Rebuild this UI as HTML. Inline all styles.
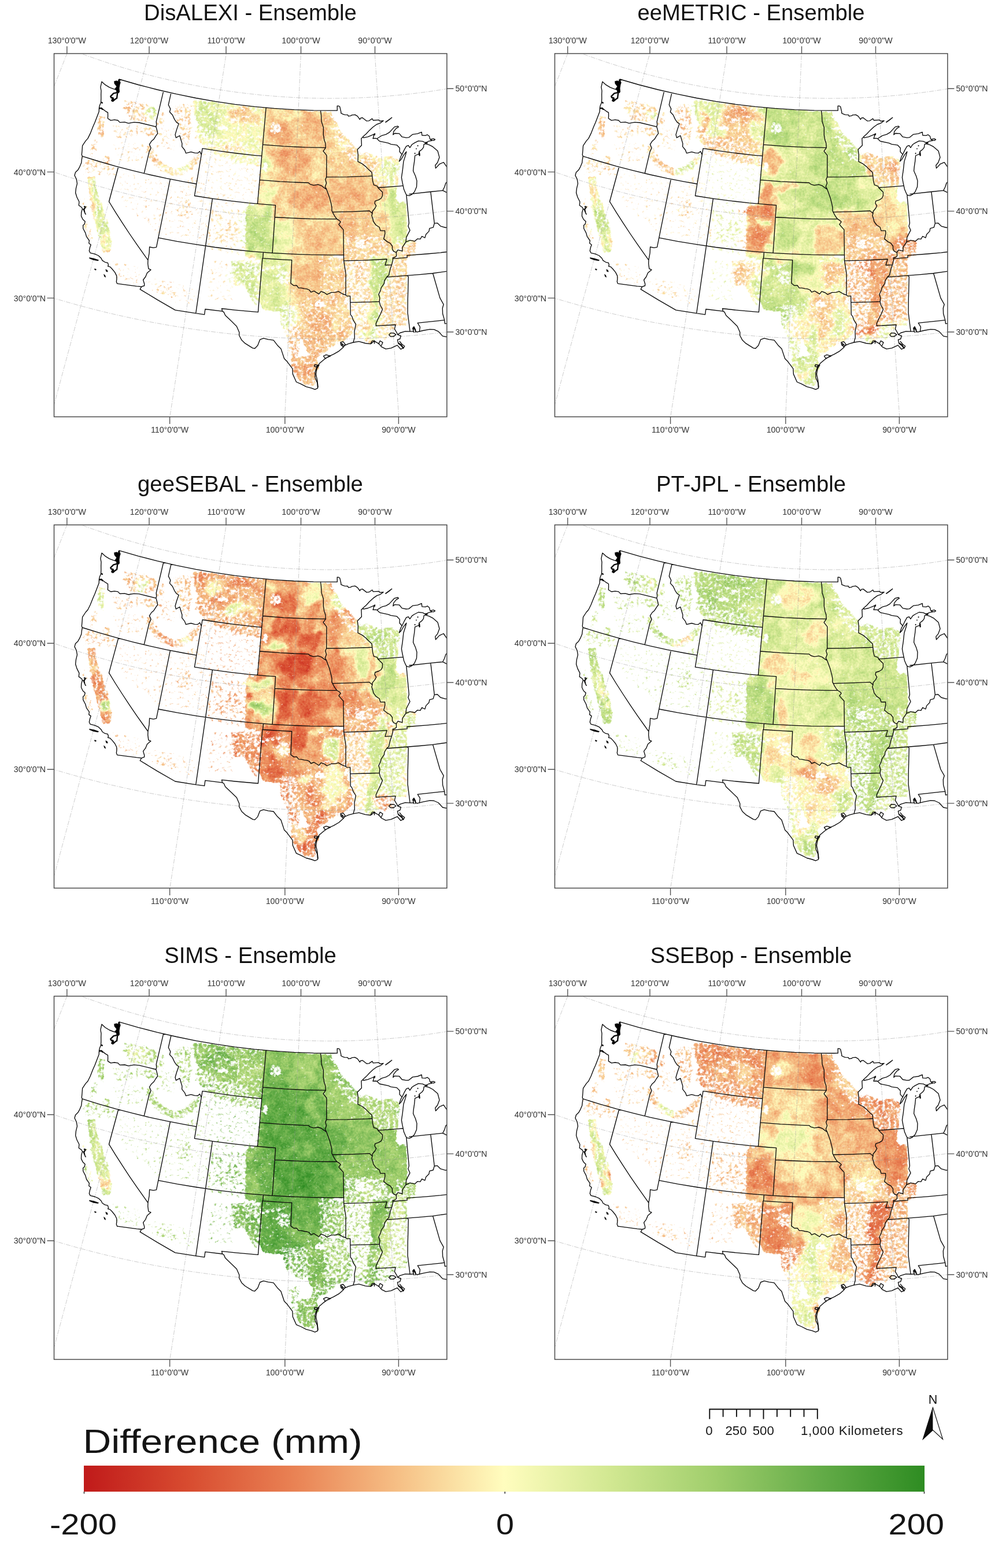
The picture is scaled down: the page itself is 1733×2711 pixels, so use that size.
<!DOCTYPE html>
<html lang="en"><head><meta charset="utf-8"><title>Model minus Ensemble difference maps</title>
<style>
html,body{margin:0;padding:0;background:#fff}
body{width:1733px;height:2711px;overflow:hidden;font-family:"Liberation Sans",sans-serif}
svg{display:block}
.t{font-size:38.25px;fill:#111;text-anchor:middle}
.k{font-size:14.2px;fill:#333}
.g{fill:none;stroke:#9a9a9a;stroke-opacity:.5;stroke-width:1;stroke-dasharray:8 2 1.5 2}
.st{fill:none;stroke:#0a0a0a;stroke-width:1.35;stroke-linejoin:round;stroke-linecap:round}
.tk{stroke:#555;stroke-width:1.4}
.fr{fill:none;stroke:#4a4a4a;stroke-width:1.5}
</style></head>
<body>
<svg width="1733" height="2711" viewBox="0 0 1733 2711">
<defs>
<clipPath id="fc"><rect x="93.5" y="92.6" width="679.4" height="628.0"/></clipPath>
<g id="grat" class="g" clip-path="url(#fc)"><path d="M-192.7,878.4 -185.5,860.2 -178.4,842.0 -171.3,824.0 -164.3,806.1 -157.3,788.3 -150.4,770.6 -143.5,753.0 -136.6,735.5 -129.8,718.1 -123.0,700.8 -116.2,683.5 -109.4,666.4 -102.7,649.3 -96.1,632.3 -89.4,615.3 -82.8,598.4 -76.2,581.6 -69.6,564.8 -63.0,548.1 -56.5,531.4 -49.9,514.8 -43.4,498.2 -36.9,481.7 -30.5,465.2 -24.0,448.7 -17.5,432.3 -11.1,415.9 -4.7,399.5 1.8,383.1 8.2,366.8 14.6,350.4 21.0,334.1 27.4,317.8 33.8,301.5 40.2,285.1 46.7,268.8 53.1,252.5 59.5,236.1 65.9,219.8 72.3,203.4 78.8,187.0 85.2,170.5 91.7,154.1 98.2,137.6 104.7,121.0 111.2,104.4 117.7,87.8 124.3,71.1 130.9,54.4 137.5,37.5 144.1,20.7 150.7,3.7 157.4,-13.3 164.1,-30.4 170.9,-47.6 177.7,-64.9 184.5,-82.4 191.4,-99.9 198.3,-117.5"/><path d="M25.7,950.6 30.8,931.6 35.9,912.8 40.9,894.2 45.9,875.6 50.9,857.1 55.9,838.8 60.8,820.5 65.7,802.4 70.6,784.3 75.5,766.3 80.3,748.5 85.1,730.7 89.9,712.9 94.7,695.3 99.5,677.7 104.2,660.2 108.9,642.7 113.6,625.3 118.3,608.0 123.0,590.7 127.6,573.5 132.3,556.3 136.9,539.1 141.5,522.0 146.2,505.0 150.8,487.9 155.4,470.9 160.0,453.9 164.6,436.9 169.2,420.0 173.7,403.0 178.3,386.1 182.9,369.1 187.5,352.2 192.0,335.3 196.6,318.4 201.2,301.4 205.8,284.5 210.4,267.5 215.0,250.5 219.6,233.5 224.2,216.4 228.8,199.4 233.4,182.2 238.1,165.1 242.7,147.9 247.4,130.6 252.1,113.3 256.8,96.0 261.5,78.5 266.2,61.0 271.0,43.4 275.7,25.8 280.5,8.0 285.4,-9.8 290.2,-27.8 295.1,-45.8 300.0,-64.0 305.0,-82.3"/><path d="M250.6,998.3 253.6,978.9 256.6,959.7 259.6,940.6 262.6,921.5 265.5,902.7 268.4,883.9 271.3,865.2 274.2,846.6 277.1,828.1 279.9,809.7 282.8,791.4 285.6,773.2 288.4,755.0 291.2,737.0 294.0,719.0 296.8,701.1 299.6,683.2 302.3,665.4 305.1,647.6 307.8,629.9 310.6,612.3 313.3,594.7 316.0,577.1 318.8,559.6 321.5,542.2 324.2,524.7 326.9,507.3 329.6,489.9 332.3,472.5 335.0,455.1 337.7,437.8 340.4,420.5 343.1,403.1 345.8,385.8 348.4,368.5 351.1,351.1 353.8,333.8 356.5,316.4 359.2,299.1 361.9,281.7 364.6,264.3 367.3,246.8 370.1,229.3 372.8,211.8 375.5,194.2 378.2,176.6 381.0,159.0 383.7,141.3 386.5,123.5 389.3,105.6 392.0,87.7 394.8,69.7 397.6,51.6 400.5,33.5 403.3,15.2 406.2,-3.2 409.0,-21.6 411.9,-40.2 414.8,-59.0"/><path d="M479.5,1021.0 480.4,1001.5 481.2,982.0 482.1,962.7 482.9,943.4 483.8,924.3 484.6,905.3 485.4,886.5 486.2,867.7 487.1,849.0 487.9,830.4 488.7,811.9 489.5,793.5 490.3,775.1 491.1,756.8 491.9,738.6 492.7,720.5 493.5,702.5 494.3,684.5 495.1,666.5 495.9,648.6 496.7,630.8 497.5,613.0 498.2,595.3 499.0,577.5 499.8,559.9 500.6,542.2 501.4,524.6 502.1,507.0 502.9,489.5 503.7,471.9 504.5,454.4 505.2,436.8 506.0,419.3 506.8,401.8 507.5,384.3 508.3,366.8 509.1,349.2 509.9,331.7 510.6,314.1 511.4,296.5 512.2,278.9 513.0,261.3 513.7,243.6 514.5,225.9 515.3,208.1 516.1,190.3 516.9,172.5 517.7,154.6 518.4,136.6 519.2,118.6 520.0,100.4 520.8,82.2 521.6,64.0 522.5,45.6 523.3,27.1 524.1,8.6 524.9,-10.1 525.7,-28.9 526.6,-47.9"/><path d="M709.5,1018.5 708.2,998.9 706.9,979.5 705.6,960.2 704.3,941.0 703.1,921.9 701.8,903.0 700.6,884.1 699.3,865.3 698.1,846.7 696.9,828.1 695.6,809.6 694.4,791.2 693.2,772.9 692.0,754.6 690.8,736.5 689.6,718.4 688.4,700.3 687.2,682.3 686.0,664.4 684.9,646.6 683.7,628.7 682.5,611.0 681.3,593.2 680.2,575.6 679.0,557.9 677.8,540.3 676.7,522.7 675.5,505.1 674.4,487.6 673.2,470.0 672.0,452.5 670.9,435.0 669.7,417.5 668.6,400.0 667.4,382.5 666.2,365.0 665.1,347.5 663.9,330.0 662.8,312.4 661.6,294.9 660.4,277.3 659.3,259.7 658.1,242.0 656.9,224.3 655.8,206.6 654.6,188.8 653.4,171.0 652.2,153.1 651.0,135.1 649.9,117.1 648.7,99.0 647.5,80.8 646.3,62.6 645.0,44.2 643.8,25.8 642.6,7.3 641.4,-11.4 640.1,-30.2 638.9,-49.1"/><path d="M-198.5,396.1 -185.8,402.7 -173.0,409.2 -160.2,415.6 -147.4,421.9 -134.4,428.0 -121.5,434.1 -108.4,440.0 -95.4,445.9 -82.2,451.6 -69.1,457.2 -55.8,462.7 -42.6,468.0 -29.2,473.3 -15.9,478.4 -2.5,483.5 11.0,488.4 24.5,493.2 38.0,497.8 51.6,502.4 65.2,506.8 78.8,511.2 92.5,515.4 106.2,519.4 120.0,523.4 133.8,527.3 147.6,531.0 161.5,534.6 175.3,538.1 189.3,541.5 203.2,544.7 217.2,547.8 231.2,550.8 245.2,553.7 259.2,556.5 273.3,559.1 287.4,561.6 301.5,564.0 315.6,566.3 329.8,568.5 344.0,570.5 358.2,572.4 372.4,574.2 386.6,575.9 400.8,577.4 415.1,578.8 429.3,580.1 443.6,581.3 457.9,582.3 472.2,583.2 486.5,584.0 500.8,584.7 515.1,585.3 529.4,585.7 543.7,586.0 558.0,586.2 572.3,586.2 586.6,586.2 600.9,586.0 615.3,585.6 629.6,585.2 643.9,584.6 658.2,584.0 672.5,583.1 686.8,582.2 701.0,581.1 715.3,580.0 729.6,578.7 743.8,577.2 758.0,575.7 772.3,574.0 786.5,572.2 800.6,570.3 814.8,568.2 829.0,566.1 843.1,563.8 857.2,561.4 871.3,558.8 885.4,556.2 899.4,553.4 913.4,550.5 927.4,547.5 941.4,544.3 955.3,541.1 969.2,537.7 983.1,534.2 997.0,530.6 1010.8,526.8 1024.6,523.0 1038.3,519.0"/><path d="M-101.9,212.4 -90.8,218.2 -79.6,223.9 -68.4,229.4 -57.2,234.9 -45.9,240.3 -34.5,245.6 -23.1,250.8 -11.7,255.9 -0.2,260.9 11.3,265.8 22.9,270.6 34.5,275.3 46.1,279.9 57.8,284.4 69.5,288.8 81.3,293.1 93.1,297.3 104.9,301.4 116.8,305.4 128.7,309.2 140.6,313.0 152.6,316.7 164.6,320.3 176.6,323.7 188.7,327.1 200.8,330.4 212.9,333.5 225.0,336.6 237.2,339.5 249.4,342.4 261.6,345.1 273.9,347.7 286.1,350.2 298.4,352.7 310.7,355.0 323.0,357.2 335.4,359.3 347.8,361.3 360.1,363.1 372.5,364.9 384.9,366.6 397.4,368.2 409.8,369.6 422.2,371.0 434.7,372.2 447.2,373.3 459.6,374.3 472.1,375.3 484.6,376.1 497.1,376.8 509.6,377.4 522.1,377.8 534.7,378.2 547.2,378.5 559.7,378.6 572.2,378.7 584.7,378.6 597.3,378.4 609.8,378.2 622.3,377.8 634.8,377.3 647.3,376.7 659.8,376.0 672.3,375.2 684.8,374.2 697.3,373.2 709.7,372.1 722.2,370.8 734.6,369.4 747.1,368.0 759.5,366.4 771.9,364.7 784.3,362.9 796.7,361.0 809.0,359.0 821.4,356.9 833.7,354.7 846.0,352.4 858.3,350.0 870.5,347.4 882.8,344.8 895.0,342.0 907.2,339.2 919.3,336.2 931.5,333.2 943.6,330.0 955.7,326.7 967.7,323.4 979.8,319.9"/><path d="M-4.8,27.8 4.7,32.7 14.3,37.6 23.9,42.4 33.5,47.1 43.2,51.7 52.9,56.2 62.6,60.7 72.4,65.0 82.2,69.3 92.1,73.5 102.0,77.6 111.9,81.6 121.9,85.6 131.9,89.4 141.9,93.2 152.0,96.9 162.1,100.4 172.2,103.9 182.4,107.4 192.6,110.7 202.8,113.9 213.0,117.1 223.3,120.1 233.6,123.1 243.9,126.0 254.2,128.8 264.6,131.5 275.0,134.1 285.4,136.6 295.8,139.0 306.3,141.4 316.8,143.6 327.3,145.8 337.8,147.8 348.3,149.8 358.9,151.7 369.4,153.5 380.0,155.2 390.6,156.8 401.2,158.3 411.8,159.8 422.5,161.1 433.1,162.3 443.8,163.5 454.4,164.6 465.1,165.5 475.8,166.4 486.5,167.2 497.2,167.9 507.8,168.5 518.6,169.0 529.3,169.4 540.0,169.7 550.7,169.9 561.4,170.1 572.1,170.1 582.8,170.0 593.5,169.9 604.3,169.7 615.0,169.3 625.7,168.9 636.4,168.4 647.1,167.8 657.8,167.1 668.4,166.3 679.1,165.4 689.8,164.4 700.5,163.4 711.1,162.2 721.8,160.9 732.4,159.6 743.0,158.2 753.6,156.6 764.2,155.0 774.8,153.3 785.3,151.5 795.9,149.6 806.4,147.6 816.9,145.5 827.4,143.4 837.9,141.1 848.3,138.8 858.8,136.3 869.2,133.8 879.6,131.2 889.9,128.4 900.3,125.6 910.6,122.8 920.9,119.8"/></g>
<g id="base" clip-path="url(#fc)"><path class="st" d="M176.0,141.2 173.9,150.7 175.0,157.0 174.7,163.5 174.8,170.1 174.5,177.3 172.3,182.5 171.5,186.2 171.2,193.1 164.1,211.6 160.7,219.3 156.1,230.9 151.9,239.4 148.1,243.6 142.6,251.9 142.0,260.2 141.3,267.6 142.3,270.1 141.4,275.3 140.7,281.6 137.9,288.3 134.8,293.8 130.5,297.9 129.0,303.2 132.2,309.9 133.5,317.3 131.5,325.3 130.6,333.3 133.0,341.0 136.9,348.7 136.3,355.0 141.5,358.8 142.4,361.6 140.7,367.2 140.5,373.6 143.2,379.3 147.2,383.1 145.9,387.7 143.6,389.6 143.7,395.0 147.7,402.6 149.6,409.2 154.4,416.0 153.7,420.5 157.2,423.2 155.6,427.5 154.3,433.6 156.1,437.3 163.9,439.2 170.3,442.0 175.0,446.5 177.0,450.4 181.6,453.3 186.3,454.3 187.5,458.1 186.6,460.4 190.3,461.3 193.9,465.0 198.7,470.9 201.7,476.9 201.9,482.3 201.3,486.9 202.7,490.4M142.5,361.2 144.4,361.8 146.3,360.2 145.6,356.7 148.7,357.7 145.7,362.1 147.1,369.0 148.3,370.5 146.1,366.6 144.3,362.2M176.0,141.2 182.0,146.7 189.4,151.2 196.0,153.7 200.0,154.9M204.5,149.7 208.0,143.1 206.1,137.0M202.7,490.4 236.3,494.8 244.8,495.7 242.2,500.1 272.3,518.4 303.0,536.1 336.7,541.4 353.6,543.8 354.9,534.5 384.6,538.2M384.6,538.2 387.1,539.6 389.7,545.3 399.5,554.6 409.3,564.2 413.8,574.5 413.6,579.7 418.0,588.1 423.9,593.7 437.1,601.8 440.7,602.5 445.7,597.2 449.6,587.2 455.8,584.9 463.9,586.9 473.0,588.1 479.8,596.9 485.9,602.9 491.6,620.0 496.0,624.4 505.8,637.4 506.4,646.9 512.5,660.5 520.0,663.7 529.5,668.6 539.0,671.1 544.7,673.3 549.5,671.1M549.5,671.1 548.7,661.7 545.0,653.2 544.8,643.7 548.1,634.3 552.8,628.1 560.3,621.8 567.8,616.6 577.0,612.4 586.2,607.1 593.5,600.7 590.7,593.4 595.3,597.6 602.6,594.3 611.0,592.0 620.8,590.3 631.9,593.5 641.1,594.6 647.3,589.7 655.7,594.6 659.7,599.6 667.2,603.4 676.4,601.8 687.1,596.9 693.1,603.8 697.6,601.4 694.4,596.3 688.6,592.6 687.4,587.4 691.8,586.0 693.3,580.7 687.7,578.6 692.0,575.5 700.9,572.8 709.1,573.2 714.5,573.1 715.7,566.3 718.0,571.3 721.0,574.2 731.7,571.5 743.3,569.3 750.6,569.6 758.3,573.1 765.6,581.1 772.3,582.4 782.2,573.8 789.0,569.8 796.8,572.9 805.5,582.3 813.7,587.5M206.1,137.0 238.9,146.5 271.9,155.0 305.2,162.7 338.7,169.5 372.3,175.3 406.1,180.3 440.1,184.3 474.1,187.4 508.2,189.6 542.3,190.9 576.4,191.2 583.3,191.1M583.3,191.1 583.2,183.1 586.0,183.3 587.8,184.8 589.8,193.6 589.7,195.7 593.1,197.3 595.9,198.3 601.5,198.6 602.5,200.9 606.8,200.2 608.5,198.9 614.0,198.3 618.3,200.9 622.4,206.6 623.6,204.2 626.8,203.5 634.1,209.2 638.3,208.8 643.7,205.1 645.3,208.0 655.1,207.4 657.4,209.5 663.1,208.7M663.1,208.7 657.6,212.9 651.6,215.0 645.3,219.5 638.9,225.4 633.5,231.3 627.5,236.6 628.7,238.2 636.2,236.6 643.2,233.7 646.7,232.1 646.2,236.3 645.0,239.5 649.3,239.2 651.9,239.7M651.9,239.7 660.5,234.3 667.5,232.4 673.1,229.2 682.3,219.4 687.9,218.1 689.4,219.4 685.3,221.9 680.8,227.5 679.8,232.9 682.5,230.5 690.5,230.9 695.3,236.7 702.7,238.1 707.0,237.7 713.7,232.3 722.3,231.2 729.2,228.4 729.9,234.0 735.7,234.4 739.2,232.9 742.5,235.6 743.8,240.7 747.1,243.0 741.4,244.2 735.9,247.0 731.1,244.4 723.7,243.6 716.8,247.1 712.7,249.7 708.9,255.3 706.3,251.4 702.7,252.8 699.0,259.4 695.3,267.1M651.9,239.7 656.5,244.2 671.6,247.4 676.1,249.3 686.4,250.8 691.3,256.0 691.1,262.3 695.3,267.1M695.3,267.1 693.3,270.4 690.4,279.1 693.8,275.6 698.3,267.9 702.9,262.2 701.3,268.6 697.9,279.4 696.3,294.2 694.4,306.9 695.9,315.1 698.5,327.3 701.5,334.3 703.3,337.3 708.1,338.3 712.6,336.0 716.8,331.8 720.5,323.1 721.0,312.6 718.6,304.5 714.6,295.5 715.3,288.1 716.6,279.6 717.7,269.0 724.8,266.1 725.1,261.9 729.9,258.2 732.4,254.8 733.2,249.4 735.6,248.5 742.2,250.4 748.5,253.7 757.0,261.0 760.0,272.1 756.7,281.0 752.8,285.7 753.5,290.9 760.1,283.7 767.2,280.6 773.1,289.2 777.2,301.1 777.6,309.5 770.9,316.7 768.8,323.3 765.7,329.4 773.3,333.2 778.1,333.5M171.5,186.2 177.7,188.6 182.6,192.3 186.5,194.6 186.6,200.1 186.4,204.8 191.5,208.1 197.9,207.2 203.8,208.0 207.3,211.6 215.8,211.2 222.1,213.1 231.6,211.4 240.5,212.0 269.8,219.2M282.7,157.6 270.2,210.3 270.7,215.7 269.8,219.2M269.8,219.2 271.0,223.1 272.7,230.6 269.4,235.2 265.9,240.8 262.0,244.1 258.4,249.7 261.1,255.7 257.9,262.8 249.2,299.8M142.3,270.1 171.1,279.0 200.1,287.3 229.2,294.9 258.5,302.0 288.0,308.4 317.6,314.1 339.8,318.0M204.7,288.5 188.5,348.5 199.9,367.1 211.8,385.6 223.9,404.0 236.5,422.4 249.4,440.6 255.9,449.7M294.4,309.7 270.5,427.3 265.2,428.4 258.6,427.0 258.1,437.5 255.9,449.7 255.7,456.0 256.9,464.7 260.9,466.4 254.6,471.7 251.7,478.5 247.6,484.0 249.7,490.8 249.6,494.0 244.8,495.7M273.8,411.1 306.3,417.3 338.9,422.7 371.7,427.5 404.5,431.5 437.4,434.8 470.4,437.4 503.5,439.2 536.5,440.4 569.6,440.8 594.4,440.6M339.8,318.0 336.4,338.5 367.4,343.3M367.4,343.3 338.7,541.7M339.8,318.0 350.1,256.6M295.9,160.7 291.3,181.2 294.8,188.4 293.4,193.5 298.3,198.8 301.8,206.4 305.2,211.4 309.1,213.9 305.6,223.9 303.0,232.9 304.4,238.1 310.8,234.5 314.9,248.1 314.6,253.3 319.5,259.5 321.5,264.8 330.3,262.6 336.7,264.4 342.0,264.7 345.5,261.7 348.3,267.4M350.1,256.6 379.3,261.1 408.6,265.0 438.0,268.3 452.7,269.7M460.1,186.3 445.4,352.4M367.4,343.3 398.5,347.4 429.7,350.9 461.0,353.7 476.6,354.8M476.6,354.8 471.1,437.4M454.4,250.1 490.7,252.9 527.0,254.6 563.3,255.3M449.0,311.1 484.1,313.8 519.3,315.5 533.4,316.0 536.4,318.6 542.5,320.4 550.1,319.2 556.2,321.2 560.8,324.8 564.6,327.1M475.3,375.5 505.9,377.2 536.5,378.3 567.2,378.7 582.5,378.6M455.4,436.3 454.6,446.6 488.0,448.8 504.7,449.6 502.9,489.8M453.9,446.6 446.4,539.6 407.0,536.1 383.5,533.5 384.6,538.2M502.9,489.8 507.9,493.7 513.1,493.5 516.3,497.8 520.7,497.9 526.7,499.2 531.0,499.7 535.2,501.5 537.7,505.1 543.0,503.1 551.6,508.4 555.1,503.9 561.1,506.0 565.4,509.1 573.2,505.6 580.2,505.4 585.3,503.9 592.3,508.0 597.9,510.2 600.2,511.8 605.6,511.9M594.4,440.6 594.6,450.9 598.1,473.7 597.9,510.2M605.6,511.9 606.3,544.1 608.8,547.2 610.8,553.4 615.4,560.6 613.0,573.2 613.3,583.6 611.0,592.0M605.8,522.9 639.3,522.1 656.1,521.4M594.4,440.6 593.9,397.1 589.2,392.0 585.9,387.9 589.1,383.7 586.6,381.1 582.5,378.6M594.6,450.9 627.8,450.1 660.9,448.5 669.2,448.0 666.0,458.5 677.4,457.8M564.6,327.1 569.9,341.4 572.6,351.8 573.9,358.0 573.9,364.2 577.0,370.4 579.4,374.5 582.5,378.6M575.1,366.7 610.5,365.8 638.9,364.5 644.0,369.0M564.7,306.1 600.6,305.8 636.6,304.6 643.7,304.2M563.3,255.3 559.1,261.3 564.9,268.7 564.7,306.1 562.7,310.3 564.6,316.5 562.3,322.7 564.6,327.1M554.5,191.1 555.5,199.5 556.0,210.0 559.4,220.6 559.3,233.1 560.7,241.5 562.8,247.8 563.3,255.3M627.5,237.2 624.9,239.2 625.4,251.3 618.2,258.5 619.3,267.8 619.0,279.3M619.0,279.3 626.5,283.2 632.7,288.1 637.5,293.1 643.0,298.0 643.7,304.2 644.5,312.5 646.4,319.7 652.6,321.8 653.7,324.5 661.5,332.3 661.4,338.5 659.3,342.8 654.8,345.6 648.7,347.6 648.1,351.8 650.7,355.8 648.6,360.0 644.1,365.5 644.0,369.0 642.9,372.8 644.8,378.3 645.8,383.0 650.1,389.0 656.0,392.8 658.0,398.9 665.6,398.8 665.9,404.0 663.7,413.1 669.7,417.9 674.9,420.6 678.5,425.5 678.5,430.7 680.8,434.7 685.4,436.4 685.6,442.7 682.4,445.0 679.4,445.6 679.4,450.4 677.4,457.8 674.6,466.3 672.4,475.8 668.7,479.1 664.8,485.6 664.5,489.8 659.4,497.3 658.0,502.6 654.9,509.0 656.9,515.2 656.1,521.4 657.6,527.6 661.5,534.7 658.4,542.2 653.6,551.8 650.3,559.3 650.5,563.4M650.5,563.4 684.1,561.5 682.4,568.9 686.6,575.9 687.7,578.6M653.7,324.5 690.0,321.8 697.2,321.2M702.9,337.3 707.4,385.8 705.9,391.1 709.0,398.1 702.8,410.1 701.9,418.5M685.4,436.4 688.1,432.1 695.8,434.2 696.0,427.3 701.9,418.5 709.0,415.4 717.4,417.1 721.9,412.9 726.9,413.4 729.7,408.5 734.9,411.1 736.7,405.2 741.9,399.9 742.9,394.9 749.2,393.2 751.3,386.2 756.4,385.6 762.0,391.1 770.5,393.5 778.6,392.6 783.0,389.3 788.8,394.7M751.3,386.2 745.0,332.8M707.8,335.6 744.9,331.5 765.7,329.4M680.1,447.2 704.2,445.3 703.9,441.6 738.0,439.0 761.9,436.8 776.5,435.1M668.7,479.1 726.5,474.6 748.6,472.5 784.1,467.6 790.8,466.6M704.4,476.5 706.3,478.4 705.3,518.1 705.1,541.0 709.1,573.2M725.4,573.2 726.5,565.3 722.3,558.4 761.0,554.3 768.7,553.4 769.5,559.6 772.0,559.3M748.6,472.5 760.9,515.1 767.2,526.3 765.3,532.8 765.6,542.2 768.7,553.4M772.0,559.3 805.5,556.9M594.4,599.7 589.8,596.6 588.9,592.0 593.4,590.7 597.1,595.4 594.4,599.7M672.8,578.9 675.6,575.6 681.1,575.9 684.9,578.6 680.6,581.6 675.1,581.5 672.8,578.9M715.9,574.7 713.7,567.5 716.0,564.8 718.8,570.2 718.3,574.5M549.1,631.2 544.4,630.5 543.4,633.2 547.1,634.7 549.1,631.2M571.5,615.6 564.1,613.4 559.5,615.5 562.2,619.7 571.5,615.6M550.1,669.2 548.7,657.5 546.4,646.9 548.0,637.5 551.9,631.2M688.7,593.6 693.6,597.5 697.6,602.4 699.7,598.5 695.3,595.2 691.2,590.3M654.8,594.6 657.3,589.2 662.0,592.1 659.6,597.5M641.0,594.2 643.6,589.3 648.1,589.1 647.4,593.9"/><path d="M197.4,140.6 201.6,139.6 204.2,140.6 204.7,137.5 206.0,137.5 206.3,140.6 207.6,142.7 207.0,148.4 206.3,152.5 206.8,158.8 205.2,160.9 201.6,160.3 201.1,156.2 198.5,154.1 201.6,149.4 199.5,146.8 197.9,144.8ZM193.3,170.7 196.4,169.2 197.4,171.8 195.9,174.9 193.8,175.2ZM154.4,445.3 162.8,446.9 170.7,449.6 169.6,451.0 161.6,449.6 154.8,446.9ZM163.9,464.4 166.6,465.7 165.7,467.3 163.2,466.0ZM182.6,465.7 185.5,466.9 186.4,470.1 183.7,469.6ZM179.4,474.1 181.9,476.0 182.8,479.4 180.5,478.2ZM666.1,211.1 671.9,206.9 677.6,202.7 678.3,203.4 673.0,207.8 667.0,212.0ZM647.0,231.0 648.9,230.5 648.7,233.5 647.3,234.1ZM724.4,262.8 726.0,263.0 726.6,268.9 725.3,270.0 724.2,267.2ZM722.0,251.1 723.3,251.4 723.2,252.8 721.8,252.6ZM719.6,256.5 720.7,256.8 720.4,258.0 719.4,257.8ZM717.1,264.2 718.5,264.7 718.0,266.2 716.8,265.8ZM735.4,245.6 739.2,246.4 739.5,248.0 736.1,248.0Z" fill="#000" stroke="#000" stroke-width="0.4"/><path class="st" style="stroke-width:2.4" d="M201.1,160.3 196.4,161.4 191.2,166.6 192.2,168.7 195.3,169.2 193.3,173.9 195.3,174.9 199.5,171.3 202.1,169.7 203.1,161.4M175.1,177.0 176.9,177.8M172.0,187.4 175.6,186.9 177.2,188.9"/><path class="st" d="M745.3,240.7 749.7,239.8 752.5,241.2 750.3,242.9 746.4,242.4 745.3,240.7"/></g>
<filter id="sp" filterUnits="userSpaceOnUse" x="93" y="92" width="681" height="629" color-interpolation-filters="sRGB"><feGaussianBlur in="SourceGraphic" stdDeviation="1.5" result="d"/><feTurbulence type="fractalNoise" baseFrequency="0.2" numOctaves="4" seed="11" result="n"/><feColorMatrix in="n" type="matrix" values="1.3 0 0 0 -0.15  1.3 0 0 0 -0.15  1.3 0 0 0 -0.15  0 0 0 0 1" result="ng"/><feComposite in="d" in2="ng" operator="arithmetic" k1="0" k2="3.36" k3="3" k4="-3"/><feGaussianBlur stdDeviation="0.7"/></filter>
<filter id="vf0" filterUnits="userSpaceOnUse" x="93" y="92" width="681" height="629" color-interpolation-filters="sRGB"><feGaussianBlur in="SourceGraphic" stdDeviation="3.5" result="b"/><feTurbulence type="fractalNoise" baseFrequency="0.035" numOctaves="3" seed="3" result="t1"/><feDisplacementMap in="b" in2="t1" scale="34" xChannelSelector="R" yChannelSelector="G" result="dm"/><feTurbulence type="fractalNoise" baseFrequency="0.07" numOctaves="3" seed="43" result="t2"/><feColorMatrix in="t2" type="matrix" values="1 0 0 0 0  1 0 0 0 0  1 0 0 0 0  0 0 0 0 1" result="tg"/><feComposite in="dm" in2="tg" operator="arithmetic" k1="0" k2="1" k3="0.17" k4="-0.08" result="v1"/><feTurbulence type="fractalNoise" baseFrequency="0.3" numOctaves="2" seed="83" result="t3"/><feColorMatrix in="t3" type="matrix" values="1 0 0 0 0  1 0 0 0 0  1 0 0 0 0  0 0 0 0 1" result="tf"/><feComposite in="v1" in2="tf" operator="arithmetic" k1="0" k2="1" k3="0.15" k4="-0.072" result="vn"/><feComponentTransfer><feFuncR type="table" tableValues="0.753 0.847 0.914 0.965 1.000 0.824 0.627 0.392 0.180"/><feFuncG type="table" tableValues="0.102 0.298 0.510 0.753 0.992 0.910 0.808 0.675 0.549"/><feFuncB type="table" tableValues="0.102 0.188 0.329 0.525 0.745 0.573 0.424 0.282 0.133"/></feComponentTransfer></filter>
<filter id="vf1" filterUnits="userSpaceOnUse" x="93" y="92" width="681" height="629" color-interpolation-filters="sRGB"><feGaussianBlur in="SourceGraphic" stdDeviation="3.5" result="b"/><feTurbulence type="fractalNoise" baseFrequency="0.035" numOctaves="3" seed="8" result="t1"/><feDisplacementMap in="b" in2="t1" scale="34" xChannelSelector="R" yChannelSelector="G" result="dm"/><feTurbulence type="fractalNoise" baseFrequency="0.07" numOctaves="3" seed="48" result="t2"/><feColorMatrix in="t2" type="matrix" values="1 0 0 0 0  1 0 0 0 0  1 0 0 0 0  0 0 0 0 1" result="tg"/><feComposite in="dm" in2="tg" operator="arithmetic" k1="0" k2="1" k3="0.17" k4="-0.08" result="v1"/><feTurbulence type="fractalNoise" baseFrequency="0.3" numOctaves="2" seed="88" result="t3"/><feColorMatrix in="t3" type="matrix" values="1 0 0 0 0  1 0 0 0 0  1 0 0 0 0  0 0 0 0 1" result="tf"/><feComposite in="v1" in2="tf" operator="arithmetic" k1="0" k2="1" k3="0.15" k4="-0.072" result="vn"/><feComponentTransfer><feFuncR type="table" tableValues="0.753 0.847 0.914 0.965 1.000 0.824 0.627 0.392 0.180"/><feFuncG type="table" tableValues="0.102 0.298 0.510 0.753 0.992 0.910 0.808 0.675 0.549"/><feFuncB type="table" tableValues="0.102 0.188 0.329 0.525 0.745 0.573 0.424 0.282 0.133"/></feComponentTransfer></filter>
<filter id="vf2" filterUnits="userSpaceOnUse" x="93" y="92" width="681" height="629" color-interpolation-filters="sRGB"><feGaussianBlur in="SourceGraphic" stdDeviation="3.5" result="b"/><feTurbulence type="fractalNoise" baseFrequency="0.035" numOctaves="3" seed="21" result="t1"/><feDisplacementMap in="b" in2="t1" scale="34" xChannelSelector="R" yChannelSelector="G" result="dm"/><feTurbulence type="fractalNoise" baseFrequency="0.07" numOctaves="3" seed="61" result="t2"/><feColorMatrix in="t2" type="matrix" values="1 0 0 0 0  1 0 0 0 0  1 0 0 0 0  0 0 0 0 1" result="tg"/><feComposite in="dm" in2="tg" operator="arithmetic" k1="0" k2="1" k3="0.17" k4="-0.08" result="v1"/><feTurbulence type="fractalNoise" baseFrequency="0.3" numOctaves="2" seed="101" result="t3"/><feColorMatrix in="t3" type="matrix" values="1 0 0 0 0  1 0 0 0 0  1 0 0 0 0  0 0 0 0 1" result="tf"/><feComposite in="v1" in2="tf" operator="arithmetic" k1="0" k2="1" k3="0.15" k4="-0.072" result="vn"/><feComponentTransfer><feFuncR type="table" tableValues="0.753 0.847 0.914 0.965 1.000 0.824 0.627 0.392 0.180"/><feFuncG type="table" tableValues="0.102 0.298 0.510 0.753 0.992 0.910 0.808 0.675 0.549"/><feFuncB type="table" tableValues="0.102 0.188 0.329 0.525 0.745 0.573 0.424 0.282 0.133"/></feComponentTransfer></filter>
<filter id="vf3" filterUnits="userSpaceOnUse" x="93" y="92" width="681" height="629" color-interpolation-filters="sRGB"><feGaussianBlur in="SourceGraphic" stdDeviation="3.5" result="b"/><feTurbulence type="fractalNoise" baseFrequency="0.035" numOctaves="3" seed="5" result="t1"/><feDisplacementMap in="b" in2="t1" scale="34" xChannelSelector="R" yChannelSelector="G" result="dm"/><feTurbulence type="fractalNoise" baseFrequency="0.07" numOctaves="3" seed="45" result="t2"/><feColorMatrix in="t2" type="matrix" values="1 0 0 0 0  1 0 0 0 0  1 0 0 0 0  0 0 0 0 1" result="tg"/><feComposite in="dm" in2="tg" operator="arithmetic" k1="0" k2="1" k3="0.17" k4="-0.08" result="v1"/><feTurbulence type="fractalNoise" baseFrequency="0.3" numOctaves="2" seed="85" result="t3"/><feColorMatrix in="t3" type="matrix" values="1 0 0 0 0  1 0 0 0 0  1 0 0 0 0  0 0 0 0 1" result="tf"/><feComposite in="v1" in2="tf" operator="arithmetic" k1="0" k2="1" k3="0.15" k4="-0.072" result="vn"/><feComponentTransfer><feFuncR type="table" tableValues="0.753 0.847 0.914 0.965 1.000 0.824 0.627 0.392 0.180"/><feFuncG type="table" tableValues="0.102 0.298 0.510 0.753 0.992 0.910 0.808 0.675 0.549"/><feFuncB type="table" tableValues="0.102 0.188 0.329 0.525 0.745 0.573 0.424 0.282 0.133"/></feComponentTransfer></filter>
<filter id="vf4" filterUnits="userSpaceOnUse" x="93" y="92" width="681" height="629" color-interpolation-filters="sRGB"><feGaussianBlur in="SourceGraphic" stdDeviation="3.5" result="b"/><feTurbulence type="fractalNoise" baseFrequency="0.035" numOctaves="3" seed="17" result="t1"/><feDisplacementMap in="b" in2="t1" scale="34" xChannelSelector="R" yChannelSelector="G" result="dm"/><feTurbulence type="fractalNoise" baseFrequency="0.07" numOctaves="3" seed="57" result="t2"/><feColorMatrix in="t2" type="matrix" values="1 0 0 0 0  1 0 0 0 0  1 0 0 0 0  0 0 0 0 1" result="tg"/><feComposite in="dm" in2="tg" operator="arithmetic" k1="0" k2="1" k3="0.17" k4="-0.08" result="v1"/><feTurbulence type="fractalNoise" baseFrequency="0.3" numOctaves="2" seed="97" result="t3"/><feColorMatrix in="t3" type="matrix" values="1 0 0 0 0  1 0 0 0 0  1 0 0 0 0  0 0 0 0 1" result="tf"/><feComposite in="v1" in2="tf" operator="arithmetic" k1="0" k2="1" k3="0.15" k4="-0.072" result="vn"/><feComponentTransfer><feFuncR type="table" tableValues="0.753 0.847 0.914 0.965 1.000 0.824 0.627 0.392 0.180"/><feFuncG type="table" tableValues="0.102 0.298 0.510 0.753 0.992 0.910 0.808 0.675 0.549"/><feFuncB type="table" tableValues="0.102 0.188 0.329 0.525 0.745 0.573 0.424 0.282 0.133"/></feComponentTransfer></filter>
<filter id="vf5" filterUnits="userSpaceOnUse" x="93" y="92" width="681" height="629" color-interpolation-filters="sRGB"><feGaussianBlur in="SourceGraphic" stdDeviation="3.5" result="b"/><feTurbulence type="fractalNoise" baseFrequency="0.035" numOctaves="3" seed="29" result="t1"/><feDisplacementMap in="b" in2="t1" scale="34" xChannelSelector="R" yChannelSelector="G" result="dm"/><feTurbulence type="fractalNoise" baseFrequency="0.07" numOctaves="3" seed="69" result="t2"/><feColorMatrix in="t2" type="matrix" values="1 0 0 0 0  1 0 0 0 0  1 0 0 0 0  0 0 0 0 1" result="tg"/><feComposite in="dm" in2="tg" operator="arithmetic" k1="0" k2="1" k3="0.17" k4="-0.08" result="v1"/><feTurbulence type="fractalNoise" baseFrequency="0.3" numOctaves="2" seed="109" result="t3"/><feColorMatrix in="t3" type="matrix" values="1 0 0 0 0  1 0 0 0 0  1 0 0 0 0  0 0 0 0 1" result="tf"/><feComposite in="v1" in2="tf" operator="arithmetic" k1="0" k2="1" k3="0.15" k4="-0.072" result="vn"/><feComponentTransfer><feFuncR type="table" tableValues="0.753 0.847 0.914 0.965 1.000 0.824 0.627 0.392 0.180"/><feFuncG type="table" tableValues="0.102 0.298 0.510 0.753 0.992 0.910 0.808 0.675 0.549"/><feFuncB type="table" tableValues="0.102 0.188 0.329 0.525 0.745 0.573 0.424 0.282 0.133"/></feComponentTransfer></filter>
<g id="mbase"><rect x="93" y="92" width="681" height="629" fill="#000"/><path fill="#464646" d="M202,293 359,324 363,423 269,405 202,342Z"/><path fill="#505050" d="M341,261 449,270 446,353 363,360 337,338Z"/><path fill="#606060" d="M363,360 426,360 424,445 359,432Z"/><ellipse fill="#808080" cx="404" cy="400" rx="13" ry="16"/><ellipse fill="#797979" cx="381" cy="409" rx="11" ry="9"/><ellipse fill="#737373" cx="377" cy="378" rx="11" ry="9"/><path fill="#4d4d4d" d="M247,477 341,495 341,530 269,517Z"/><ellipse fill="#737373" cx="287" cy="503" rx="18" ry="8" transform="rotate(25 287 503)"/><ellipse fill="#868686" cx="233" cy="488" rx="4" ry="6"/><path fill="#545454" d="M193,450 242,459 242,490 202,486Z"/><path fill="#505050" d="M359,450 404,450 404,521 359,521Z"/><path fill="#606060" d="M139,270 202,284 200,306 144,302Z"/><ellipse fill="#6f6f6f" cx="180" cy="288" rx="18" ry="8" transform="rotate(15 180 288)"/><path fill="#808080" d="M213,172 269,181 273,205 251,214 225,208 213,194Z"/><ellipse fill="#929292" cx="263" cy="196" rx="10" ry="13"/><ellipse fill="#8c8c8c" cx="233" cy="194" rx="13" ry="11"/><path fill="#989898" d="M170,199 182,201 181,240 173,241 167,226Z"/><ellipse fill="#808080" cx="162" cy="255" rx="6" ry="17" transform="rotate(15 162 255)"/><ellipse fill="#808080" cx="184" cy="279" rx="9" ry="11"/><path fill="#656565" d="M193,217 269,217 265,239 242,234 202,243Z"/><ellipse fill="#808080" cx="259" cy="228" rx="11" ry="10"/><path fill="#505050" d="M193,243 251,248 247,284 198,279Z"/><path fill="none" stroke="#989898" stroke-width="15.2" stroke-linecap="round" stroke-linejoin="round" d="M258,259 270,279 285,292 304,299 322,292 338,277"/><ellipse fill="#808080" cx="278" cy="210" rx="7" ry="18" transform="rotate(10 278 210)"/><path fill="#7b7b7b" d="M298,181 332,178 334,226 325,255 311,241 304,208Z"/><path fill="#5b5b5b" d="M269,217 301,221 305,261 269,257Z"/><ellipse fill="#737373" cx="319" cy="360" rx="13" ry="18"/><ellipse fill="#656565" cx="332" cy="315" rx="11" ry="11"/><path fill="#bababa" d="M151,305 165,305 167,324 172,340 180,364 190,391 194,418 192,437 178,438 171,414 164,387 157,360 154,340 152,324Z"/><ellipse fill="#868686" cx="153" cy="400" rx="5" ry="22" transform="rotate(-18 153 400)"/><ellipse fill="#808080" cx="147" cy="356" rx="4" ry="13" transform="rotate(-10 147 356)"/><ellipse fill="#808080" cx="157" cy="284" rx="6" ry="13" transform="rotate(-10 157 284)"/><path fill="#bdbdbd" d="M334,172 458,186 455,250 451,270 435,266 422,250 404,241 381,243 368,231 355,226 341,213 334,194Z"/><path fill="#8c8c8c" d="M341,213 368,231 381,243 404,241 422,250 435,266 451,270 449,288 404,279 359,261 337,239Z"/><path fill="#fafafa" d="M455,187 556,193 565,270 566,306 646,306 659,338 646,369 664,405 595,405 595,441 552,445 555,526 505,521 453,447 426,445 426,356 446,353 449,312 455,250Z"/><path fill="#ffffff" d="M458,186 556,193 562,226 564,252 455,250Z"/><path fill="#ffffff" d="M455,250 564,252 566,270 566,306 538,315 449,312 452,279Z"/><path fill="#ffffff" d="M449,312 538,315 562,320 573,342 580,367 476,376 475,356 446,353Z"/><path fill="#ffffff" d="M476,376 580,367 593,396 595,441 473,437Z"/><path fill="#e9e9e9" d="M426,356 475,356 473,437 453,447 424,445 425,396Z"/><path fill="#929292" d="M399,450 453,447 451,521 440,530 422,495 404,495Z"/><ellipse fill="#b6b6b6" cx="435" cy="490" rx="11" ry="18"/><ellipse fill="#b0b0b0" cx="415" cy="472" rx="11" ry="16"/><path fill="#fafafa" d="M453,437 550,441 554,506 538,501 520,497 505,486 505,450 453,447Z"/><path fill="#9d9d9d" d="M550,441 596,447 596,512 576,506 554,506Z"/><path fill="#e4e4e4" d="M453,447 505,450 505,486 520,497 555,506 555,528 505,528 494,539 476,539 453,535 449,521 451,481Z"/><path fill="none" stroke="#797979" stroke-width="5.4" stroke-linecap="round" stroke-linejoin="round" d="M455,467 471,463 490,460"/><ellipse fill="#8c8c8c" cx="491" cy="479" rx="13" ry="13"/><path fill="none" stroke="#c5c5c5" stroke-width="31.4" stroke-linecap="round" stroke-linejoin="round" d="M545,521 547,553 548,583"/><path fill="#838383" d="M485,528 538,528 538,573 520,584 494,566Z"/><path fill="#7d7d7d" d="M554,507 597,512 606,539 611,575 597,589 559,584Z"/><path fill="#a3a3a3" d="M547,582 594,586 574,600 556,613 547,620 534,616Z"/><path fill="#adadad" d="M516,616 548,616 552,634 544,669 523,664 511,649Z"/><path fill="#797979" d="M496,593 520,593 520,618 509,647 500,620Z"/><path fill="#ffffff" d="M566,306 642,304 649,324 660,338 647,360 645,367 580,367 573,342 562,320Z"/><path fill="#a5a5a5" d="M561,192 572,192 582,208 590,226 608,245 620,258 620,279 605,272 589,254 576,238 576,208Z"/><path fill="#e4e4e4" d="M556,193 566,193 576,208 576,238 589,254 605,272 619,279 628,288 642,304 566,306 564,252 562,226Z"/><path fill="#aaaaaa" d="M619,265 635,263 658,272 680,268 692,279 689,323 653,324 644,306 628,288 619,279Z"/><path fill="#f2f2f2" d="M653,324 686,323 686,349 703,349 705,415 691,423 682,436 673,432 664,405 646,378 644,367 659,338Z"/><path fill="#e4e4e4" d="M580,367 645,367 646,378 664,405 646,405 595,405 593,396Z"/><path fill="#989898" d="M595,405 664,405 673,432 677,445 664,450 595,450Z"/><ellipse fill="#6a6a6a" cx="626" cy="421" rx="13" ry="10"/><ellipse fill="#737373" cx="650" cy="436" rx="9" ry="8"/><path fill="#797979" d="M595,450 646,450 639,486 641,521 606,524 597,512Z"/><path fill="#e4e4e4" d="M644,450 678,444 671,472 663,495 656,524 645,524 641,503 638,486 641,468Z"/><path fill="#757575" d="M606,524 656,521 650,562 682,562 686,584 650,589 615,584 610,553Z"/><path fill="none" stroke="#b0b0b0" stroke-width="17.9" stroke-linecap="round" stroke-linejoin="round" d="M648,524 645,557 639,586"/><ellipse fill="#8c8c8c" cx="626" cy="580" rx="13" ry="6"/><path fill="#808080" d="M673,477 705,477 705,563 653,563 656,524 663,495Z"/><path fill="#b0b0b0" d="M663,477 678,477 673,539 656,549 656,524Z"/><path fill="#989898" d="M671,443 686,432 705,415 705,477 668,477Z"/><path fill="#a3a3a3" d="M686,405 705,415 721,415 719,443 705,445 686,432Z"/><ellipse fill="#505050" cx="459" cy="289" rx="4" ry="8"/><ellipse fill="#5b5b5b" cx="554" cy="526" rx="8" ry="6"/><ellipse fill="#737373" cx="476" cy="222" rx="11" ry="9"/><ellipse fill="#6a6a6a" cx="384" cy="221" rx="10" ry="4"/><ellipse fill="#797979" cx="404" cy="208" rx="6" ry="4"/><ellipse fill="#606060" cx="606" cy="272" rx="4" ry="4"/></g>
<mask id="mk0" maskUnits="userSpaceOnUse" x="93" y="92" width="681" height="629"><g filter="url(#sp)"><use href="#mbase"/><path fill="#b6b6b6" d="M511,528 556,506 583,508 597,512 606,539 612,575 597,590 574,600 547,621 534,616 520,584 511,557Z"/><path fill="#8c8c8c" d="M480,539 511,528 511,557 520,584 516,616 502,620 496,584 485,562Z"/><path fill="#b2b2b2" d="M507,616 548,616 552,634 544,669 523,664 509,649 502,625Z"/><path fill="#bdbdbd" d="M550,441 596,447 596,512 576,506 554,506Z"/><path fill="#b0b0b0" d="M595,405 664,405 673,432 677,445 664,450 595,450Z"/><path fill="#929292" d="M595,450 646,450 639,486 641,521 606,524 597,512Z"/><path fill="#8c8c8c" d="M606,524 656,521 650,562 682,562 686,584 650,589 615,584 610,553Z"/><path fill="#989898" d="M673,477 705,477 705,563 653,563 656,524 663,495Z"/><path fill="#a5a5a5" d="M671,443 686,432 705,415 705,477 668,477Z"/><path fill="#cacaca" d="M642,450 678,444 671,472 663,495 656,524 650,562 639,586 630,584 641,524 638,486Z"/><ellipse fill="#797979" cx="626" cy="421" rx="12" ry="8"/><ellipse fill="#5b5b5b" cx="554" cy="526" rx="8" ry="6"/><path fill="#9d9d9d" d="M341,213 368,231 381,243 404,241 422,250 435,266 451,270 449,288 404,279 359,261 337,239Z"/></g></mask>
<mask id="mk1" maskUnits="userSpaceOnUse" x="93" y="92" width="681" height="629"><g filter="url(#sp)"><use href="#mbase"/><path fill="#b6b6b6" d="M511,528 556,506 583,508 597,512 606,539 612,575 597,590 574,600 547,621 534,616 520,584 511,557Z"/><path fill="#8c8c8c" d="M480,539 511,528 511,557 520,584 516,616 502,620 496,584 485,562Z"/><path fill="#b2b2b2" d="M507,616 548,616 552,634 544,669 523,664 509,649 502,625Z"/><path fill="#bdbdbd" d="M550,441 596,447 596,512 576,506 554,506Z"/><path fill="#b0b0b0" d="M595,405 664,405 673,432 677,445 664,450 595,450Z"/><path fill="#929292" d="M595,450 646,450 639,486 641,521 606,524 597,512Z"/><path fill="#8c8c8c" d="M606,524 656,521 650,562 682,562 686,584 650,589 615,584 610,553Z"/><path fill="#989898" d="M673,477 705,477 705,563 653,563 656,524 663,495Z"/><path fill="#a5a5a5" d="M671,443 686,432 705,415 705,477 668,477Z"/><path fill="#cacaca" d="M642,450 678,444 671,472 663,495 656,524 650,562 639,586 630,584 641,524 638,486Z"/><ellipse fill="#797979" cx="626" cy="421" rx="12" ry="8"/><ellipse fill="#5b5b5b" cx="554" cy="526" rx="8" ry="6"/><path fill="#9d9d9d" d="M341,213 368,231 381,243 404,241 422,250 435,266 451,270 449,288 404,279 359,261 337,239Z"/></g></mask>
<mask id="mk2" maskUnits="userSpaceOnUse" x="93" y="92" width="681" height="629"><g filter="url(#sp)"><use href="#mbase"/><path fill="#b6b6b6" d="M511,528 556,506 583,508 597,512 606,539 612,575 597,590 574,600 547,621 534,616 520,584 511,557Z"/><path fill="#8c8c8c" d="M480,539 511,528 511,557 520,584 516,616 502,620 496,584 485,562Z"/><path fill="#b2b2b2" d="M507,616 548,616 552,634 544,669 523,664 509,649 502,625Z"/><path fill="#bdbdbd" d="M550,441 596,447 596,512 576,506 554,506Z"/><path fill="#b0b0b0" d="M595,405 664,405 673,432 677,445 664,450 595,450Z"/><path fill="#929292" d="M595,450 646,450 639,486 641,521 606,524 597,512Z"/><path fill="#8c8c8c" d="M606,524 656,521 650,562 682,562 686,584 650,589 615,584 610,553Z"/><path fill="#989898" d="M673,477 705,477 705,563 653,563 656,524 663,495Z"/><path fill="#a5a5a5" d="M671,443 686,432 705,415 705,477 668,477Z"/><path fill="#cacaca" d="M642,450 678,444 671,472 663,495 656,524 650,562 639,586 630,584 641,524 638,486Z"/><ellipse fill="#797979" cx="626" cy="421" rx="12" ry="8"/><ellipse fill="#5b5b5b" cx="554" cy="526" rx="8" ry="6"/><path fill="#9d9d9d" d="M341,213 368,231 381,243 404,241 422,250 435,266 451,270 449,288 404,279 359,261 337,239Z"/></g></mask>
<mask id="mk3" maskUnits="userSpaceOnUse" x="93" y="92" width="681" height="629"><g filter="url(#sp)"><use href="#mbase"/><path fill="#b6b6b6" d="M511,528 556,506 583,508 597,512 606,539 612,575 597,590 574,600 547,621 534,616 520,584 511,557Z"/><path fill="#8c8c8c" d="M480,539 511,528 511,557 520,584 516,616 502,620 496,584 485,562Z"/><path fill="#b2b2b2" d="M507,616 548,616 552,634 544,669 523,664 509,649 502,625Z"/><path fill="#bdbdbd" d="M550,441 596,447 596,512 576,506 554,506Z"/><path fill="#b0b0b0" d="M595,405 664,405 673,432 677,445 664,450 595,450Z"/><path fill="#929292" d="M595,450 646,450 639,486 641,521 606,524 597,512Z"/><path fill="#8c8c8c" d="M606,524 656,521 650,562 682,562 686,584 650,589 615,584 610,553Z"/><path fill="#989898" d="M673,477 705,477 705,563 653,563 656,524 663,495Z"/><path fill="#a5a5a5" d="M671,443 686,432 705,415 705,477 668,477Z"/><path fill="#cacaca" d="M642,450 678,444 671,472 663,495 656,524 650,562 639,586 630,584 641,524 638,486Z"/><ellipse fill="#797979" cx="626" cy="421" rx="12" ry="8"/><ellipse fill="#5b5b5b" cx="554" cy="526" rx="8" ry="6"/><path fill="#9d9d9d" d="M341,213 368,231 381,243 404,241 422,250 435,266 451,270 449,288 404,279 359,261 337,239Z"/></g></mask>
<mask id="mk4" maskUnits="userSpaceOnUse" x="93" y="92" width="681" height="629"><g filter="url(#sp)"><use href="#mbase"/><path fill="#929292" d="M485,528 538,528 538,573 520,584 494,566Z"/><path fill="#929292" d="M554,507 597,512 606,539 611,575 597,589 559,584Z"/><path fill="none" stroke="#c5c5c5" stroke-width="26.9" stroke-linecap="round" stroke-linejoin="round" d="M545,524 547,553 548,582"/><ellipse fill="#5b5b5b" cx="554" cy="526" rx="8" ry="6"/></g></mask>
<mask id="mk5" maskUnits="userSpaceOnUse" x="93" y="92" width="681" height="629"><g filter="url(#sp)"><use href="#mbase"/><path fill="#b6b6b6" d="M511,528 556,506 583,508 597,512 606,539 612,575 597,590 574,600 547,621 534,616 520,584 511,557Z"/><path fill="#8c8c8c" d="M480,539 511,528 511,557 520,584 516,616 502,620 496,584 485,562Z"/><path fill="#b2b2b2" d="M507,616 548,616 552,634 544,669 523,664 509,649 502,625Z"/><path fill="#bdbdbd" d="M550,441 596,447 596,512 576,506 554,506Z"/><path fill="#b0b0b0" d="M595,405 664,405 673,432 677,445 664,450 595,450Z"/><path fill="#929292" d="M595,450 646,450 639,486 641,521 606,524 597,512Z"/><path fill="#8c8c8c" d="M606,524 656,521 650,562 682,562 686,584 650,589 615,584 610,553Z"/><path fill="#989898" d="M673,477 705,477 705,563 653,563 656,524 663,495Z"/><path fill="#a5a5a5" d="M671,443 686,432 705,415 705,477 668,477Z"/><path fill="#cacaca" d="M642,450 678,444 671,472 663,495 656,524 650,562 639,586 630,584 641,524 638,486Z"/><ellipse fill="#797979" cx="626" cy="421" rx="12" ry="8"/><ellipse fill="#5b5b5b" cx="554" cy="526" rx="8" ry="6"/><path fill="#9d9d9d" d="M341,213 368,231 381,243 404,241 422,250 435,266 451,270 449,288 404,279 359,261 337,239Z"/></g></mask>
<g id="frame"><rect class="fr" x="93.5" y="92.6" width="679.4" height="628.0"/><path class="tk" d="M115.8,80.1V92.6M258.0,80.1V92.6M391.0,80.1V92.6M520.5,80.1V92.6M648.5,80.1V92.6M293.6,720.6V733.1M492.8,720.6V733.1M689.4,720.6V733.1M81.5,297.4H93.5M81.5,515.4H93.5M772.9,153.3H784.4M772.9,365.1H784.4M772.9,574.0H784.4"/></g>
</defs>
<rect width="1733" height="2711" fill="#fff"/>
<g transform="translate(0.0,0.0)">
<text class="t" x="433" y="34.8">DisALEXI - Ensemble</text>
<g mask="url(#mk0)" clip-path="url(#fc)"><g filter="url(#vf0)"><rect x="60" y="60" width="760" height="700" fill="#6c6c6c"/><path fill="#636363" d="M117,118 334,136 334,261 363,360 359,539 117,539Z"/><path fill="#999999" d="M150,302 167,302 169,324 174,340 182,364 192,391 198,418 195,441 175,441 168,414 161,387 155,360 151,340 150,324Z"/><ellipse fill="#636363" cx="155" cy="342" rx="5" ry="27" transform="rotate(-15 155 342)"/><ellipse fill="#686868" cx="184" cy="423" rx="6" ry="13"/><ellipse fill="#9c9c9c" cx="263" cy="196" rx="10" ry="13"/><ellipse fill="#5e5e5e" cx="229" cy="192" rx="16" ry="11"/><ellipse fill="#5e5e5e" cx="175" cy="226" rx="11" ry="27" transform="rotate(10 175 226)"/><ellipse fill="#767676" cx="292" cy="293" rx="27" ry="11" transform="rotate(15 292 293)"/><ellipse fill="#8e8e8e" cx="323" cy="291" rx="13" ry="7" transform="rotate(-20 323 291)"/><ellipse fill="#636363" cx="278" cy="210" rx="7" ry="18" transform="rotate(10 278 210)"/><ellipse fill="#636363" cx="314" cy="212" rx="13" ry="27"/><path fill="#848484" d="M332,167 460,183 455,250 451,284 404,284 359,266 332,226Z"/><path fill="#979797" d="M332,169 377,175 384,203 377,241 355,228 332,212Z"/><ellipse fill="#686868" cx="417" cy="199" rx="27" ry="13"/><ellipse fill="#6d6d6d" cx="395" cy="257" rx="27" ry="11"/><path fill="#6a6a6a" d="M455,183 559,190 563,226 565,253 454,251Z"/><ellipse fill="#535353" cx="487" cy="228" rx="20" ry="16"/><ellipse fill="#5c5c5c" cx="534" cy="217" rx="16" ry="25"/><ellipse fill="#494949" cx="556" cy="219" rx="3" ry="27"/><ellipse fill="#787878" cx="507" cy="201" rx="18" ry="9"/><path fill="#666666" d="M454,250 565,252 567,270 567,307 538,316 448,312 451,279Z"/><ellipse fill="#555555" cx="509" cy="279" rx="34" ry="22"/><ellipse fill="#494949" cx="496" cy="264" rx="7" ry="7"/><ellipse fill="#959595" cx="459" cy="284" rx="6" ry="27"/><ellipse fill="#767676" cx="552" cy="288" rx="11" ry="18"/><path fill="#666666" d="M448,311 538,315 563,320 574,342 581,368 476,377 475,356 445,353Z"/><ellipse fill="#555555" cx="534" cy="342" rx="34" ry="20"/><ellipse fill="#828282" cx="462" cy="335" rx="13" ry="20"/><ellipse fill="#6f6f6f" cx="494" cy="360" rx="18" ry="11"/><path fill="#616161" d="M565,306 644,303 650,324 662,338 648,360 646,368 580,368 573,342 562,320Z"/><ellipse fill="#575757" cx="606" cy="342" rx="31" ry="18"/><path fill="#686868" d="M555,191 572,201 579,226 590,239 608,252 621,270 630,288 644,304 565,307 564,252 562,226Z"/><ellipse fill="#717171" cx="592" cy="239" rx="18" ry="27"/><path fill="#767676" d="M619,270 628,248 655,257 691,266 695,288 693,324 655,325 644,306 628,288Z"/><ellipse fill="#929292" cx="677" cy="293" rx="13" ry="22"/><ellipse fill="#686868" cx="637" cy="284" rx="13" ry="18"/><path fill="#a1a1a1" d="M422,355 476,355 474,439 420,436 422,396Z"/><ellipse fill="#a8a8a8" cx="444" cy="405" rx="16" ry="27"/><ellipse fill="#929292" cx="449" cy="364" rx="18" ry="9"/><path fill="#6a6a6a" d="M475,376 581,367 594,396 597,442 472,438Z"/><path fill="#898989" d="M475,378 505,378 502,438 473,437Z"/><ellipse fill="#616161" cx="556" cy="414" rx="31" ry="22"/><path fill="#686868" d="M453,437 597,445 597,513 576,507 556,507 538,502 520,498 505,486 505,450 453,447Z"/><path fill="#909090" d="M453,437 494,438 507,450 505,486 494,495 453,447Z"/><ellipse fill="#5e5e5e" cx="538" cy="472" rx="27" ry="20"/><ellipse fill="#636363" cx="480" cy="456" rx="13" ry="5"/><path fill="#929292" d="M451,447 505,450 505,486 520,497 520,539 494,566 471,553 451,535 448,521 450,481Z"/><ellipse fill="#717171" cx="511" cy="508" rx="18" ry="18"/><path fill="#636363" d="M505,486 556,506 583,508 597,512 606,539 612,575 597,590 574,600 547,621 538,621 511,593 494,566 520,539Z"/><ellipse fill="#5a5a5a" cx="552" cy="562" rx="22" ry="40" transform="rotate(10 552 562)"/><ellipse fill="#6d6d6d" cx="588" cy="548" rx="13" ry="27"/><path fill="#5a5a5a" d="M494,584 547,607 554,629 545,672 520,665 505,649 496,620Z"/><ellipse fill="#4e4e4e" cx="523" cy="645" rx="13" ry="13"/><path fill="#999999" d="M395,445 453,447 451,524 440,533 422,497 399,497Z"/><path fill="#666666" d="M580,367 645,367 647,378 665,405 674,432 678,446 664,451 595,451 593,396Z"/><ellipse fill="#5e5e5e" cx="610" cy="387" rx="22" ry="18"/><path fill="#6d6d6d" d="M654,323 689,322 693,347 708,349 708,415 691,424 682,437 673,433 664,405 646,378 644,367 659,338Z"/><path fill="#979797" d="M664,324 689,323 693,347 708,349 708,415 693,424 680,418 671,378Z"/><ellipse fill="#a3a3a3" cx="669" cy="342" rx="6" ry="18"/><path fill="#6a6a6a" d="M595,450 644,450 637,486 641,521 606,525 597,512Z"/><path fill="#a3a3a3" d="M644,447 681,443 672,472 664,495 657,524 653,562 644,589 630,589 638,557 641,521 637,486Z"/><path fill="#686868" d="M671,472 680,445 689,432 708,415 722,415 720,446 708,448 708,564 653,564 655,521 662,495Z"/><path fill="#717171" d="M606,524 639,521 635,562 628,590 615,585 610,553Z"/><ellipse fill="#636363" cx="713" cy="427" rx="11" ry="16"/></g></g>
<use href="#grat"/><use href="#base"/><use href="#frame"/>
<g><text class="k" text-anchor="middle" x="115.8" y="75.1">130°0'0"W</text><text class="k" text-anchor="middle" x="258.0" y="75.1">120°0'0"W</text><text class="k" text-anchor="middle" x="391.0" y="75.1">110°0'0"W</text><text class="k" text-anchor="middle" x="520.5" y="75.1">100°0'0"W</text><text class="k" text-anchor="middle" x="648.5" y="75.1">90°0'0"W</text><text class="k" text-anchor="middle" x="293.6" y="748.4">110°0'0"W</text><text class="k" text-anchor="middle" x="492.8" y="748.4">100°0'0"W</text><text class="k" text-anchor="middle" x="689.4" y="748.4">90°0'0"W</text><text class="k" text-anchor="end" x="79.0" y="302.5">40°0'0"N</text><text class="k" text-anchor="end" x="79.0" y="520.5">30°0'0"N</text><text class="k" text-anchor="start" x="787.4" y="158.4">50°0'0"N</text><text class="k" text-anchor="start" x="787.4" y="370.2">40°0'0"N</text><text class="k" text-anchor="start" x="787.4" y="579.1">30°0'0"N</text></g>
</g>
<g transform="translate(866.0,0.0)">
<text class="t" x="433" y="34.8">eeMETRIC - Ensemble</text>
<g mask="url(#mk1)" clip-path="url(#fc)"><g filter="url(#vf1)"><rect x="60" y="60" width="760" height="700" fill="#909090"/><path fill="#6a6a6a" d="M117,118 334,136 334,261 363,360 359,539 117,539Z"/><path fill="#9d9d9d" d="M150,302 167,302 169,324 174,340 182,364 192,391 198,418 195,441 175,441 168,414 161,387 155,360 151,340 150,324Z"/><path fill="none" stroke="#515151" stroke-width="6.3" stroke-linecap="round" stroke-linejoin="round" d="M157,311 162,342 180,396 191,427"/><ellipse fill="#aaaaaa" cx="172" cy="378" rx="5" ry="22" transform="rotate(-15 172 378)"/><ellipse fill="#a7a7a7" cx="265" cy="199" rx="9" ry="11"/><ellipse fill="#5e5e5e" cx="233" cy="194" rx="11" ry="11"/><ellipse fill="#5a5a5a" cx="175" cy="226" rx="10" ry="25" transform="rotate(10 175 226)"/><ellipse fill="#5a5a5a" cx="278" cy="279" rx="16" ry="11" transform="rotate(30 278 279)"/><ellipse fill="#9d9d9d" cx="319" cy="293" rx="16" ry="9" transform="rotate(-20 319 293)"/><ellipse fill="#626262" cx="278" cy="210" rx="7" ry="18" transform="rotate(10 278 210)"/><ellipse fill="#5a5a5a" cx="314" cy="212" rx="13" ry="27"/><path fill="#666666" d="M332,167 460,183 455,250 451,284 404,284 359,266 332,226Z"/><path fill="#929292" d="M332,169 377,175 384,203 377,241 355,228 332,212Z"/><ellipse fill="#5c5c5c" cx="355" cy="212" rx="10" ry="20"/><ellipse fill="#535353" cx="413" cy="199" rx="25" ry="16"/><ellipse fill="#8c8c8c" cx="444" cy="226" rx="11" ry="20"/><ellipse fill="#5e5e5e" cx="381" cy="248" rx="22" ry="11"/><path fill="#a3a3a3" d="M455,183 559,190 563,226 565,253 454,251Z"/><ellipse fill="#acacac" cx="476" cy="226" rx="16" ry="22"/><ellipse fill="#979797" cx="534" cy="221" rx="18" ry="27"/><ellipse fill="#a7a7a7" cx="552" cy="208" rx="7" ry="18"/><path fill="#979797" d="M454,250 565,252 567,270 567,307 538,316 448,312 451,279Z"/><ellipse fill="#5c5c5c" cx="471" cy="279" rx="16" ry="27"/><ellipse fill="#a7a7a7" cx="552" cy="284" rx="20" ry="22"/><ellipse fill="#8c8c8c" cx="511" cy="270" rx="18" ry="13"/><path fill="#9d9d9d" d="M448,311 538,315 563,320 574,342 581,368 476,377 475,356 445,353Z"/><ellipse fill="#4f4f4f" cx="462" cy="335" rx="16" ry="22"/><ellipse fill="#acacac" cx="556" cy="342" rx="22" ry="22"/><ellipse fill="#8a8a8a" cx="494" cy="356" rx="18" ry="13"/><ellipse fill="#666666" cx="494" cy="324" rx="18" ry="9"/><path fill="#9f9f9f" d="M565,306 644,303 650,324 662,338 648,360 646,368 580,368 573,342 562,320Z"/><ellipse fill="#acacac" cx="588" cy="347" rx="22" ry="18"/><ellipse fill="#8a8a8a" cx="628" cy="324" rx="18" ry="18"/><path fill="#a3a3a3" d="M555,191 572,201 579,226 590,239 608,252 621,270 630,288 644,304 565,307 564,252 562,226Z"/><ellipse fill="#909090" cx="601" cy="239" rx="13" ry="18"/><path fill="#646464" d="M619,270 628,248 655,257 691,266 695,288 693,324 655,325 644,306 628,288Z"/><ellipse fill="#555555" cx="677" cy="288" rx="11" ry="22"/><path fill="#535353" d="M422,355 476,355 474,439 420,436 422,396Z"/><ellipse fill="#424242" cx="449" cy="364" rx="18" ry="11"/><ellipse fill="#474747" cx="449" cy="409" rx="20" ry="16"/><ellipse fill="#959595" cx="449" cy="388" rx="13" ry="6"/><ellipse fill="#909090" cx="464" cy="427" rx="9" ry="9"/><path fill="#8e8e8e" d="M475,376 581,367 594,396 597,442 472,438Z"/><ellipse fill="#a3a3a3" cx="494" cy="405" rx="18" ry="31"/><ellipse fill="#686868" cx="565" cy="414" rx="27" ry="27"/><ellipse fill="#5e5e5e" cx="507" cy="436" rx="18" ry="5"/><path fill="#888888" d="M453,437 597,445 597,513 576,507 556,507 538,502 520,498 505,486 505,450 453,447Z"/><ellipse fill="#a7a7a7" cx="520" cy="463" rx="18" ry="18"/><ellipse fill="#626262" cx="570" cy="472" rx="22" ry="22"/><path fill="#a5a5a5" d="M451,447 505,450 505,486 520,497 520,539 494,566 471,553 451,535 448,521 450,481Z"/><ellipse fill="#6a6a6a" cx="476" cy="454" rx="16" ry="5"/><ellipse fill="#999999" cx="476" cy="495" rx="18" ry="27"/><path fill="#777777" d="M505,486 556,506 583,508 597,512 606,539 612,575 597,590 574,600 547,621 538,621 511,593 494,566 520,539Z"/><ellipse fill="#626262" cx="561" cy="539" rx="22" ry="36"/><ellipse fill="#999999" cx="520" cy="526" rx="13" ry="18"/><ellipse fill="#959595" cx="583" cy="553" rx="13" ry="22"/><ellipse fill="#9d9d9d" cx="543" cy="584" rx="9" ry="18"/><path fill="#979797" d="M494,584 547,607 554,629 545,672 520,665 505,649 496,620Z"/><ellipse fill="#6f6f6f" cx="516" cy="647" rx="11" ry="9"/><path fill="#737373" d="M395,445 453,447 451,524 440,533 422,497 399,497Z"/><ellipse fill="#5e5e5e" cx="413" cy="477" rx="13" ry="13"/><ellipse fill="#999999" cx="440" cy="495" rx="9" ry="18"/><path fill="#646464" d="M580,367 645,367 647,378 665,405 674,432 678,446 664,451 595,451 593,396Z"/><ellipse fill="#4f4f4f" cx="641" cy="445" rx="13" ry="11"/><ellipse fill="#5a5a5a" cx="606" cy="405" rx="13" ry="27"/><path fill="#757575" d="M654,323 689,322 693,347 708,349 708,415 691,424 682,437 673,433 664,405 646,378 644,367 659,338Z"/><ellipse fill="#4b4b4b" cx="693" cy="423" rx="22" ry="18"/><ellipse fill="#666666" cx="659" cy="369" rx="13" ry="27"/><ellipse fill="#777777" cx="686" cy="360" rx="13" ry="22"/><path fill="#585858" d="M595,450 644,450 637,486 641,521 606,525 597,512Z"/><ellipse fill="#404040" cx="633" cy="463" rx="9" ry="11"/><path fill="#515151" d="M644,447 681,443 672,472 664,495 657,524 653,562 644,589 630,589 638,557 641,521 637,486Z"/><path fill="#5a5a5a" d="M671,472 680,445 689,432 708,415 722,415 720,446 708,448 708,564 653,564 655,521 662,495Z"/><path fill="#5c5c5c" d="M606,524 639,521 635,562 628,590 615,585 610,553Z"/><ellipse fill="#383838" cx="635" cy="577" rx="18" ry="10"/><ellipse fill="#4d4d4d" cx="713" cy="427" rx="11" ry="16"/></g></g>
<use href="#grat"/><use href="#base"/><use href="#frame"/>
<g><text class="k" text-anchor="middle" x="115.8" y="75.1">130°0'0"W</text><text class="k" text-anchor="middle" x="258.0" y="75.1">120°0'0"W</text><text class="k" text-anchor="middle" x="391.0" y="75.1">110°0'0"W</text><text class="k" text-anchor="middle" x="520.5" y="75.1">100°0'0"W</text><text class="k" text-anchor="middle" x="648.5" y="75.1">90°0'0"W</text><text class="k" text-anchor="middle" x="293.6" y="748.4">110°0'0"W</text><text class="k" text-anchor="middle" x="492.8" y="748.4">100°0'0"W</text><text class="k" text-anchor="middle" x="689.4" y="748.4">90°0'0"W</text><text class="k" text-anchor="end" x="79.0" y="302.5">40°0'0"N</text><text class="k" text-anchor="end" x="79.0" y="520.5">30°0'0"N</text><text class="k" text-anchor="start" x="787.4" y="158.4">50°0'0"N</text><text class="k" text-anchor="start" x="787.4" y="370.2">40°0'0"N</text><text class="k" text-anchor="start" x="787.4" y="579.1">30°0'0"N</text></g>
</g>
<g transform="translate(0.0,814.9)">
<text class="t" x="433" y="34.8">geeSEBAL - Ensemble</text>
<g mask="url(#mk2)" clip-path="url(#fc)"><g filter="url(#vf2)"><rect x="60" y="60" width="760" height="700" fill="#4f4f4f"/><path fill="#5c5c5c" d="M117,118 334,136 334,261 363,360 359,539 117,539Z"/><path fill="#4c4c4c" d="M150,302 167,302 169,324 174,340 182,364 192,391 198,418 195,441 175,441 168,414 161,387 155,360 151,340 150,324Z"/><ellipse fill="#bdbdbd" cx="185" cy="403" rx="6" ry="13"/><ellipse fill="#949494" cx="163" cy="333" rx="4" ry="13"/><path fill="none" stroke="#3d3d3d" stroke-width="4.5" stroke-linecap="round" stroke-linejoin="round" d="M157,315 164,360 175,396"/><ellipse fill="#a3a3a3" cx="242" cy="192" rx="11" ry="9"/><ellipse fill="#525252" cx="225" cy="187" rx="9" ry="7"/><ellipse fill="#9e9e9e" cx="175" cy="221" rx="8" ry="18" transform="rotate(10 175 221)"/><ellipse fill="#4c4c4c" cx="287" cy="288" rx="22" ry="11" transform="rotate(20 287 288)"/><ellipse fill="#949494" cx="323" cy="288" rx="11" ry="5" transform="rotate(-20 323 288)"/><ellipse fill="#575757" cx="278" cy="210" rx="7" ry="18" transform="rotate(10 278 210)"/><ellipse fill="#616161" cx="314" cy="212" rx="13" ry="27"/><path fill="#575757" d="M332,167 460,183 455,250 451,284 404,284 359,266 332,226Z"/><ellipse fill="#3d3d3d" cx="350" cy="185" rx="18" ry="11"/><ellipse fill="#3d3d3d" cx="377" cy="221" rx="9" ry="9"/><ellipse fill="#949494" cx="404" cy="239" rx="18" ry="9"/><ellipse fill="#757575" cx="435" cy="239" rx="13" ry="13"/><ellipse fill="#424242" cx="417" cy="194" rx="22" ry="9"/><ellipse fill="#808080" cx="368" cy="199" rx="9" ry="13"/><path fill="#575757" d="M455,183 559,190 563,226 565,253 454,251Z"/><ellipse fill="#333333" cx="494" cy="230" rx="22" ry="18"/><ellipse fill="#808080" cx="538" cy="208" rx="18" ry="18"/><ellipse fill="#7a7a7a" cx="471" cy="203" rx="11" ry="11"/><ellipse fill="#424242" cx="552" cy="243" rx="9" ry="9"/><ellipse fill="#757575" cx="520" cy="239" rx="11" ry="9"/><path fill="#4a4a4a" d="M454,250 565,252 567,270 567,307 538,316 448,312 451,279Z"/><ellipse fill="#2b2b2b" cx="494" cy="270" rx="25" ry="16"/><ellipse fill="#2e2e2e" cx="534" cy="288" rx="18" ry="16"/><ellipse fill="#999999" cx="480" cy="303" rx="18" ry="7"/><ellipse fill="#6b6b6b" cx="556" cy="270" rx="9" ry="13"/><ellipse fill="#666666" cx="467" cy="261" rx="9" ry="9"/><path fill="#404040" d="M448,311 538,315 563,320 574,342 581,368 476,377 475,356 445,353Z"/><ellipse fill="#1c1c1c" cx="511" cy="335" rx="29" ry="20"/><ellipse fill="#525252" cx="561" cy="351" rx="13" ry="13"/><ellipse fill="#5c5c5c" cx="462" cy="342" rx="13" ry="11"/><ellipse fill="#616161" cx="538" cy="360" rx="18" ry="6"/><path fill="#454545" d="M475,376 581,367 594,396 597,442 472,438Z"/><ellipse fill="#2b2b2b" cx="494" cy="405" rx="16" ry="29"/><ellipse fill="#2b2b2b" cx="538" cy="400" rx="20" ry="29"/><ellipse fill="#5c5c5c" cx="583" cy="423" rx="13" ry="18"/><ellipse fill="#616161" cx="516" cy="382" rx="13" ry="8"/><path fill="#6b6b6b" d="M422,355 476,355 474,439 420,436 422,396Z"/><ellipse fill="#b8b8b8" cx="446" cy="412" rx="20" ry="14"/><ellipse fill="#949494" cx="449" cy="367" rx="22" ry="9"/><ellipse fill="#333333" cx="434" cy="385" rx="11" ry="13"/><ellipse fill="#474747" cx="431" cy="427" rx="11" ry="11"/><path fill="#4f4f4f" d="M453,437 597,445 597,513 576,507 556,507 538,502 520,498 505,486 505,450 453,447Z"/><ellipse fill="#2b2b2b" cx="520" cy="463" rx="16" ry="20"/><ellipse fill="#999999" cx="574" cy="481" rx="18" ry="18"/><ellipse fill="#333333" cx="471" cy="443" rx="18" ry="5"/><ellipse fill="#707070" cx="543" cy="450" rx="13" ry="8"/><path fill="#474747" d="M451,447 505,450 505,486 520,497 520,539 494,566 471,553 451,535 448,521 450,481Z"/><ellipse fill="#292929" cx="467" cy="461" rx="16" ry="11"/><ellipse fill="#757575" cx="485" cy="486" rx="9" ry="13"/><ellipse fill="#333333" cx="476" cy="508" rx="13" ry="18"/><path fill="#575757" d="M505,486 556,506 583,508 597,512 606,539 612,575 597,590 574,600 547,621 538,621 511,593 494,566 520,539Z"/><ellipse fill="#808080" cx="579" cy="539" rx="18" ry="36"/><ellipse fill="#333333" cx="556" cy="598" rx="11" ry="13"/><ellipse fill="#7a7a7a" cx="529" cy="530" rx="13" ry="11"/><ellipse fill="#3d3d3d" cx="538" cy="562" rx="9" ry="18"/><ellipse fill="#757575" cx="565" cy="575" rx="11" ry="13"/><path fill="#474747" d="M494,584 547,607 554,629 545,672 520,665 505,649 496,620Z"/><ellipse fill="#333333" cx="527" cy="647" rx="11" ry="11"/><ellipse fill="#707070" cx="516" cy="625" rx="8" ry="11"/><path fill="#474747" d="M395,445 453,447 451,524 440,533 422,497 399,497Z"/><path fill="#5c5c5c" d="M565,306 644,303 650,324 662,338 648,360 646,368 580,368 573,342 562,320Z"/><ellipse fill="#949494" cx="630" cy="333" rx="16" ry="27"/><ellipse fill="#424242" cx="583" cy="333" rx="13" ry="27"/><ellipse fill="#808080" cx="606" cy="315" rx="13" ry="9"/><path fill="#6b6b6b" d="M555,191 572,201 579,226 590,239 608,252 621,270 630,288 644,304 565,307 564,252 562,226Z"/><ellipse fill="#4c4c4c" cx="579" cy="270" rx="18" ry="27"/><ellipse fill="#949494" cx="588" cy="221" rx="13" ry="18"/><path fill="#9e9e9e" d="M619,270 628,248 655,257 691,266 695,288 693,324 655,325 644,306 628,288Z"/><ellipse fill="#adadad" cx="659" cy="284" rx="22" ry="13"/><path fill="#949494" d="M654,323 689,322 693,347 708,349 708,415 691,424 682,437 673,433 664,405 646,378 644,367 659,338Z"/><ellipse fill="#a6a6a6" cx="668" cy="360" rx="13" ry="27"/><ellipse fill="#707070" cx="693" cy="342" rx="8" ry="13"/><ellipse fill="#6b6b6b" cx="668" cy="414" rx="11" ry="13"/><path fill="#595959" d="M580,367 645,367 647,378 665,405 674,432 678,446 664,451 595,451 593,396Z"/><ellipse fill="#454545" cx="606" cy="396" rx="18" ry="22"/><ellipse fill="#8f8f8f" cx="659" cy="432" rx="13" ry="13"/><ellipse fill="#757575" cx="628" cy="378" rx="13" ry="9"/><path fill="#666666" d="M595,450 644,450 637,486 641,521 606,525 597,512Z"/><path fill="#9e9e9e" d="M644,447 681,443 672,472 664,495 657,524 653,562 644,589 630,589 638,557 641,521 637,486Z"/><path fill="#949494" d="M671,472 680,445 689,432 708,415 722,415 720,446 708,448 708,564 653,564 655,521 662,495Z"/><path fill="#757575" d="M606,524 639,521 635,562 628,590 615,585 610,553Z"/><path fill="none" stroke="#383838" stroke-width="4.5" stroke-linecap="round" stroke-linejoin="round" d="M677,436 673,463 666,486"/><ellipse fill="#999999" cx="713" cy="427" rx="11" ry="16"/><path fill="none" stroke="#757575" stroke-width="3.1" stroke-linecap="round" stroke-linejoin="round" opacity="0.5" d="M496,194 485,306 476,432"/><path fill="none" stroke="#757575" stroke-width="2.7" stroke-linecap="round" stroke-linejoin="round" opacity="0.45" d="M527,196 516,315 507,441"/><path fill="none" stroke="#7a7a7a" stroke-width="3.1" stroke-linecap="round" stroke-linejoin="round" opacity="0.5" d="M554,270 545,378 538,495"/><path fill="none" stroke="#757575" stroke-width="2.7" stroke-linecap="round" stroke-linejoin="round" opacity="0.45" d="M583,315 574,405 567,495"/><path fill="none" stroke="#1f1f1f" stroke-width="3.1" stroke-linecap="round" stroke-linejoin="round" opacity="0.4" d="M511,199 500,315 492,436"/><path fill="none" stroke="#1f1f1f" stroke-width="2.7" stroke-linecap="round" stroke-linejoin="round" opacity="0.4" d="M543,261 533,369 525,477"/><path fill="none" stroke="#757575" stroke-width="2.7" stroke-linecap="round" stroke-linejoin="round" opacity="0.4" d="M467,261 460,360 455,441"/><path fill="none" stroke="#757575" stroke-width="2.7" stroke-linecap="round" stroke-linejoin="round" opacity="0.4" d="M610,306 603,382 599,445"/></g></g>
<use href="#grat"/><use href="#base"/><use href="#frame"/>
<g><text class="k" text-anchor="middle" x="115.8" y="75.1">130°0'0"W</text><text class="k" text-anchor="middle" x="258.0" y="75.1">120°0'0"W</text><text class="k" text-anchor="middle" x="391.0" y="75.1">110°0'0"W</text><text class="k" text-anchor="middle" x="520.5" y="75.1">100°0'0"W</text><text class="k" text-anchor="middle" x="648.5" y="75.1">90°0'0"W</text><text class="k" text-anchor="middle" x="293.6" y="748.4">110°0'0"W</text><text class="k" text-anchor="middle" x="492.8" y="748.4">100°0'0"W</text><text class="k" text-anchor="middle" x="689.4" y="748.4">90°0'0"W</text><text class="k" text-anchor="end" x="79.0" y="302.5">40°0'0"N</text><text class="k" text-anchor="end" x="79.0" y="520.5">30°0'0"N</text><text class="k" text-anchor="start" x="787.4" y="158.4">50°0'0"N</text><text class="k" text-anchor="start" x="787.4" y="370.2">40°0'0"N</text><text class="k" text-anchor="start" x="787.4" y="579.1">30°0'0"N</text></g>
</g>
<g transform="translate(866.0,814.9)">
<text class="t" x="433" y="34.8">PT-JPL - Ensemble</text>
<g mask="url(#mk3)" clip-path="url(#fc)"><g filter="url(#vf3)"><rect x="60" y="60" width="760" height="700" fill="#959595"/><path fill="#a4a4a4" d="M117,118 334,136 334,261 363,360 359,539 117,539Z"/><path fill="#ababab" d="M150,302 167,302 169,324 174,340 182,364 192,391 198,418 195,441 175,441 168,414 161,387 155,360 151,340 150,324Z"/><path fill="none" stroke="#616161" stroke-width="5.4" stroke-linecap="round" stroke-linejoin="round" d="M159,342 173,378 185,410"/><ellipse fill="#6a6a6a" cx="267" cy="195" rx="8" ry="9"/><ellipse fill="#a7a7a7" cx="233" cy="192" rx="16" ry="13"/><ellipse fill="#ababab" cx="175" cy="226" rx="11" ry="27" transform="rotate(10 175 226)"/><ellipse fill="#585858" cx="314" cy="294" rx="18" ry="6" transform="rotate(-25 314 294)"/><ellipse fill="#afafaf" cx="274" cy="279" rx="13" ry="11" transform="rotate(30 274 279)"/><ellipse fill="#ababab" cx="314" cy="212" rx="13" ry="27"/><path fill="#ababab" d="M332,167 460,183 455,250 451,284 404,284 359,266 332,226Z"/><ellipse fill="#b6b6b6" cx="404" cy="190" rx="36" ry="13"/><ellipse fill="#b4b4b4" cx="359" cy="221" rx="18" ry="18"/><ellipse fill="#9a9a9a" cx="440" cy="239" rx="13" ry="22"/><path fill="#939393" d="M455,183 559,190 563,226 565,253 454,251Z"/><ellipse fill="#777777" cx="511" cy="217" rx="27" ry="27"/><ellipse fill="#afafaf" cx="554" cy="212" rx="5" ry="27"/><ellipse fill="#a2a2a2" cx="471" cy="199" rx="11" ry="11"/><ellipse fill="#a7a7a7" cx="534" cy="196" rx="13" ry="5"/><path fill="#919191" d="M454,250 565,252 567,270 567,307 538,316 448,312 451,279Z"/><ellipse fill="#727272" cx="543" cy="279" rx="18" ry="22"/><ellipse fill="#a2a2a2" cx="471" cy="284" rx="13" ry="22"/><path fill="#868686" d="M448,311 538,315 563,320 574,342 581,368 476,377 475,356 445,353Z"/><ellipse fill="#6a6a6a" cx="480" cy="333" rx="27" ry="13"/><ellipse fill="#6e6e6e" cx="520" cy="356" rx="22" ry="11"/><ellipse fill="#959595" cx="556" cy="333" rx="13" ry="13"/><path fill="#8d8d8d" d="M475,376 581,367 594,396 597,442 472,438Z"/><ellipse fill="#6a6a6a" cx="485" cy="414" rx="13" ry="25"/><ellipse fill="#9a9a9a" cx="565" cy="405" rx="22" ry="27"/><path fill="#a7a7a7" d="M422,355 476,355 474,439 420,436 422,396Z"/><ellipse fill="#727272" cx="469" cy="369" rx="8" ry="11"/><ellipse fill="#afafaf" cx="440" cy="382" rx="13" ry="18"/><path fill="#888888" d="M453,437 597,445 597,513 576,507 556,507 538,502 520,498 505,486 505,450 453,447Z"/><ellipse fill="#6a6a6a" cx="534" cy="472" rx="22" ry="18"/><ellipse fill="#a7a7a7" cx="583" cy="472" rx="13" ry="22"/><ellipse fill="#727272" cx="471" cy="443" rx="18" ry="5"/><path fill="#777777" d="M451,447 505,450 505,486 520,497 520,539 494,566 471,553 451,535 448,521 450,481Z"/><ellipse fill="#919191" cx="480" cy="530" rx="18" ry="18"/><ellipse fill="#6a6a6a" cx="471" cy="495" rx="13" ry="22"/><path fill="#7b7b7b" d="M505,486 556,506 583,508 597,512 606,539 612,575 597,590 574,600 547,621 538,621 511,593 494,566 520,539Z"/><ellipse fill="#545454" cx="532" cy="517" rx="18" ry="13"/><ellipse fill="#616161" cx="565" cy="544" rx="18" ry="22"/><ellipse fill="#9e9e9e" cx="592" cy="566" rx="13" ry="22"/><ellipse fill="#6a6a6a" cx="538" cy="584" rx="11" ry="18"/><path fill="#919191" d="M494,584 547,607 554,629 545,672 520,665 505,649 496,620Z"/><ellipse fill="#6e6e6e" cx="520" cy="616" rx="13" ry="18"/><ellipse fill="#ababab" cx="534" cy="651" rx="11" ry="13"/><path fill="#a4a4a4" d="M395,445 453,447 451,524 440,533 422,497 399,497Z"/><path fill="#9a9a9a" d="M565,306 644,303 650,324 662,338 648,360 646,368 580,368 573,342 562,320Z"/><ellipse fill="#8d8d8d" cx="583" cy="333" rx="18" ry="18"/><path fill="#9a9a9a" d="M555,191 572,201 579,226 590,239 608,252 621,270 630,288 644,304 565,307 564,252 562,226Z"/><ellipse fill="#888888" cx="592" cy="270" rx="22" ry="22"/><path fill="#9e9e9e" d="M619,270 628,248 655,257 691,266 695,288 693,324 655,325 644,306 628,288Z"/><path fill="#a0a0a0" d="M654,323 689,322 693,347 708,349 708,415 691,424 682,437 673,433 664,405 646,378 644,367 659,338Z"/><path fill="#a4a4a4" d="M580,367 645,367 647,378 665,405 674,432 678,446 664,451 595,451 593,396Z"/><ellipse fill="#afafaf" cx="619" cy="418" rx="22" ry="18"/><path fill="#a7a7a7" d="M595,450 644,450 637,486 641,521 606,525 597,512Z"/><path fill="#afafaf" d="M644,447 681,443 672,472 664,495 657,524 653,562 644,589 630,589 638,557 641,521 637,486Z"/><path fill="#a2a2a2" d="M671,472 680,445 689,432 708,415 722,415 720,446 708,448 708,564 653,564 655,521 662,495Z"/><path fill="#ababab" d="M606,524 639,521 635,562 628,590 615,585 610,553Z"/><ellipse fill="#a2a2a2" cx="713" cy="427" rx="11" ry="16"/></g></g>
<use href="#grat"/><use href="#base"/><use href="#frame"/>
<g><text class="k" text-anchor="middle" x="115.8" y="75.1">130°0'0"W</text><text class="k" text-anchor="middle" x="258.0" y="75.1">120°0'0"W</text><text class="k" text-anchor="middle" x="391.0" y="75.1">110°0'0"W</text><text class="k" text-anchor="middle" x="520.5" y="75.1">100°0'0"W</text><text class="k" text-anchor="middle" x="648.5" y="75.1">90°0'0"W</text><text class="k" text-anchor="middle" x="293.6" y="748.4">110°0'0"W</text><text class="k" text-anchor="middle" x="492.8" y="748.4">100°0'0"W</text><text class="k" text-anchor="middle" x="689.4" y="748.4">90°0'0"W</text><text class="k" text-anchor="end" x="79.0" y="302.5">40°0'0"N</text><text class="k" text-anchor="end" x="79.0" y="520.5">30°0'0"N</text><text class="k" text-anchor="start" x="787.4" y="158.4">50°0'0"N</text><text class="k" text-anchor="start" x="787.4" y="370.2">40°0'0"N</text><text class="k" text-anchor="start" x="787.4" y="579.1">30°0'0"N</text></g>
</g>
<g transform="translate(0.0,1629.8)">
<text class="t" x="433" y="34.8">SIMS - Ensemble</text>
<g mask="url(#mk4)" clip-path="url(#fc)"><g filter="url(#vf4)"><rect x="60" y="60" width="760" height="700" fill="#cbcbcb"/><path fill="#b3b3b3" d="M117,118 334,136 334,261 363,360 359,539 117,539Z"/><path fill="#9b9b9b" d="M150,302 167,302 169,324 174,340 182,364 192,391 198,418 195,441 175,441 168,414 161,387 155,360 151,340 150,324Z"/><path fill="none" stroke="#444444" stroke-width="5.4" stroke-linecap="round" stroke-linejoin="round" d="M143,347 157,396 180,425 192,405"/><ellipse fill="#5f5f5f" cx="216" cy="212" rx="18" ry="4"/><ellipse fill="#3e3e3e" cx="287" cy="264" rx="8" ry="4"/><ellipse fill="#444444" cx="363" cy="295" rx="3" ry="8" transform="rotate(-30 363 295)"/><ellipse fill="#959595" cx="238" cy="192" rx="18" ry="13"/><ellipse fill="#bbbbbb" cx="175" cy="226" rx="11" ry="27" transform="rotate(10 175 226)"/><path fill="#bebebe" d="M332,167 460,183 455,250 451,284 404,284 359,266 332,226Z"/><ellipse fill="#cecece" cx="377" cy="199" rx="27" ry="18"/><ellipse fill="#b6b6b6" cx="431" cy="226" rx="18" ry="27"/><path fill="#c6c6c6" d="M455,183 559,190 563,226 565,253 454,251Z"/><ellipse fill="#d6d6d6" cx="480" cy="237" rx="22" ry="13"/><ellipse fill="#b8b8b8" cx="529" cy="217" rx="22" ry="22"/><path fill="#d9d9d9" d="M454,250 565,252 567,270 567,307 538,316 448,312 451,279Z"/><ellipse fill="#c3c3c3" cx="538" cy="288" rx="13" ry="18"/><ellipse fill="#e1e1e1" cx="494" cy="293" rx="27" ry="13"/><path fill="#dedede" d="M448,311 538,315 563,320 574,342 581,368 476,377 475,356 445,353Z"/><ellipse fill="#c9c9c9" cx="520" cy="356" rx="31" ry="6"/><ellipse fill="#e4e4e4" cx="471" cy="342" rx="18" ry="13"/><path fill="#e1e1e1" d="M475,376 581,367 594,396 597,442 472,438Z"/><ellipse fill="#cecece" cx="579" cy="414" rx="13" ry="27"/><ellipse fill="#e9e9e9" cx="516" cy="414" rx="31" ry="18"/><path fill="#d6d6d6" d="M422,355 476,355 474,439 420,436 422,396Z"/><ellipse fill="#bebebe" cx="435" cy="414" rx="11" ry="22"/><ellipse fill="#bbbbbb" cx="431" cy="369" rx="9" ry="13"/><path fill="#d6d6d6" d="M453,437 597,445 597,513 576,507 556,507 538,502 520,498 505,486 505,450 453,447Z"/><ellipse fill="#bebebe" cx="579" cy="477" rx="18" ry="27"/><ellipse fill="#e4e4e4" cx="480" cy="445" rx="22" ry="7"/><path fill="#dedede" d="M451,447 505,450 505,486 520,497 520,539 494,566 471,553 451,535 448,521 450,481Z"/><ellipse fill="#d1d1d1" cx="516" cy="508" rx="18" ry="13"/><path fill="#cbcbcb" d="M505,486 556,506 583,508 597,512 606,539 612,575 597,590 574,600 547,621 538,621 511,593 494,566 520,539Z"/><ellipse fill="#b6b6b6" cx="583" cy="548" rx="18" ry="36"/><path fill="#c6c6c6" d="M494,584 547,607 554,629 545,672 520,665 505,649 496,620Z"/><path fill="#cecece" d="M395,445 453,447 451,524 440,533 422,497 399,497Z"/><path fill="#c6c6c6" d="M565,306 644,303 650,324 662,338 648,360 646,368 580,368 573,342 562,320Z"/><ellipse fill="#d6d6d6" cx="583" cy="335" rx="18" ry="22"/><path fill="#bbbbbb" d="M555,191 572,201 579,226 590,239 608,252 621,270 630,288 644,304 565,307 564,252 562,226Z"/><path fill="#b0b0b0" d="M619,270 628,248 655,257 691,266 695,288 693,324 655,325 644,306 628,288Z"/><path fill="#bebebe" d="M654,323 689,322 693,347 708,349 708,415 691,424 682,437 673,433 664,405 646,378 644,367 659,338Z"/><path fill="#c1c1c1" d="M580,367 645,367 647,378 665,405 674,432 678,446 664,451 595,451 593,396Z"/><ellipse fill="#aeaeae" cx="637" cy="427" rx="22" ry="18"/><path fill="#b0b0b0" d="M595,450 644,450 637,486 641,521 606,525 597,512Z"/><path fill="#c9c9c9" d="M644,447 681,443 672,472 664,495 657,524 653,562 644,589 630,589 638,557 641,521 637,486Z"/><path fill="#a0a0a0" d="M671,472 680,445 689,432 708,415 722,415 720,446 708,448 708,564 653,564 655,521 662,495Z"/><path fill="#ababab" d="M606,524 639,521 635,562 628,590 615,585 610,553Z"/><ellipse fill="#b6b6b6" cx="713" cy="427" rx="11" ry="16"/></g></g>
<use href="#grat"/><use href="#base"/><use href="#frame"/>
<g><text class="k" text-anchor="middle" x="115.8" y="75.1">130°0'0"W</text><text class="k" text-anchor="middle" x="258.0" y="75.1">120°0'0"W</text><text class="k" text-anchor="middle" x="391.0" y="75.1">110°0'0"W</text><text class="k" text-anchor="middle" x="520.5" y="75.1">100°0'0"W</text><text class="k" text-anchor="middle" x="648.5" y="75.1">90°0'0"W</text><text class="k" text-anchor="middle" x="293.6" y="748.4">110°0'0"W</text><text class="k" text-anchor="middle" x="492.8" y="748.4">100°0'0"W</text><text class="k" text-anchor="middle" x="689.4" y="748.4">90°0'0"W</text><text class="k" text-anchor="end" x="79.0" y="302.5">40°0'0"N</text><text class="k" text-anchor="end" x="79.0" y="520.5">30°0'0"N</text><text class="k" text-anchor="start" x="787.4" y="158.4">50°0'0"N</text><text class="k" text-anchor="start" x="787.4" y="370.2">40°0'0"N</text><text class="k" text-anchor="start" x="787.4" y="579.1">30°0'0"N</text></g>
</g>
<g transform="translate(866.0,1629.8)">
<text class="t" x="433" y="34.8">SSEBop - Ensemble</text>
<g mask="url(#mk5)" clip-path="url(#fc)"><g filter="url(#vf5)"><rect x="60" y="60" width="760" height="700" fill="#5e5e5e"/><path fill="#606060" d="M117,118 334,136 334,261 363,360 359,539 117,539Z"/><path fill="#9a9a9a" d="M150,302 167,302 169,324 174,340 182,364 192,391 198,418 195,441 175,441 168,414 161,387 155,360 151,340 150,324Z"/><ellipse fill="#4a4a4a" cx="186" cy="405" rx="7" ry="16"/><path fill="none" stroke="#5c5c5c" stroke-width="4.5" stroke-linecap="round" stroke-linejoin="round" d="M147,324 157,378 171,424"/><ellipse fill="#4e4e4e" cx="266" cy="196" rx="8" ry="11"/><ellipse fill="#969696" cx="233" cy="199" rx="11" ry="9"/><ellipse fill="#606060" cx="175" cy="226" rx="11" ry="27" transform="rotate(10 175 226)"/><ellipse fill="#9f9f9f" cx="287" cy="288" rx="18" ry="6" transform="rotate(30 287 288)"/><ellipse fill="#535353" cx="328" cy="288" rx="13" ry="6" transform="rotate(-25 328 288)"/><ellipse fill="#4e4e4e" cx="278" cy="210" rx="7" ry="18" transform="rotate(10 278 210)"/><ellipse fill="#575757" cx="314" cy="212" rx="13" ry="27"/><path fill="#4e4e4e" d="M332,167 460,183 455,250 451,284 404,284 359,266 332,226Z"/><ellipse fill="#434343" cx="359" cy="190" rx="22" ry="16"/><ellipse fill="#656565" cx="422" cy="226" rx="18" ry="18"/><ellipse fill="#454545" cx="440" cy="199" rx="18" ry="13"/><ellipse fill="#6e6e6e" cx="381" cy="221" rx="9" ry="7"/><path fill="#555555" d="M455,183 559,190 563,226 565,253 454,251Z"/><ellipse fill="#434343" cx="543" cy="221" rx="18" ry="31"/><ellipse fill="#727272" cx="485" cy="221" rx="18" ry="18"/><ellipse fill="#4e4e4e" cx="471" cy="199" rx="11" ry="9"/><path fill="#6b6b6b" d="M454,250 565,252 567,270 567,307 538,316 448,312 451,279Z"/><ellipse fill="#535353" cx="554" cy="288" rx="13" ry="20"/><ellipse fill="#535353" cx="476" cy="297" rx="13" ry="6"/><ellipse fill="#848484" cx="494" cy="303" rx="13" ry="7"/><ellipse fill="#777777" cx="507" cy="279" rx="22" ry="13"/><path fill="#7b7b7b" d="M448,311 538,315 563,320 574,342 581,368 476,377 475,356 445,353Z"/><ellipse fill="#888888" cx="494" cy="342" rx="31" ry="22"/><ellipse fill="#656565" cx="556" cy="347" rx="18" ry="18"/><ellipse fill="#606060" cx="462" cy="324" rx="13" ry="9"/><path fill="#676767" d="M475,376 581,367 594,396 597,442 472,438Z"/><ellipse fill="#535353" cx="494" cy="425" rx="22" ry="11"/><ellipse fill="#535353" cx="565" cy="433" rx="22" ry="8"/><ellipse fill="#777777" cx="520" cy="391" rx="31" ry="13"/><path fill="#515151" d="M422,355 476,355 474,439 420,436 422,396Z"/><ellipse fill="#414141" cx="449" cy="400" rx="18" ry="27"/><ellipse fill="#656565" cx="444" cy="364" rx="18" ry="8"/><path fill="#727272" d="M453,437 597,445 597,513 576,507 556,507 538,502 520,498 505,486 505,450 453,447Z"/><ellipse fill="#535353" cx="538" cy="445" rx="36" ry="6"/><ellipse fill="#888888" cx="534" cy="481" rx="18" ry="13"/><ellipse fill="#575757" cx="583" cy="477" rx="13" ry="22"/><ellipse fill="#8d8d8d" cx="471" cy="454" rx="13" ry="5"/><path fill="#4a4a4a" d="M451,447 505,450 505,486 520,497 520,539 494,566 471,553 451,535 448,521 450,481Z"/><ellipse fill="#3f3f3f" cx="471" cy="512" rx="18" ry="22"/><path fill="#7b7b7b" d="M505,486 556,506 583,508 597,512 606,539 612,575 597,590 574,600 547,621 538,621 511,593 494,566 520,539Z"/><ellipse fill="#969696" cx="538" cy="539" rx="13" ry="31"/><ellipse fill="#5c5c5c" cx="588" cy="539" rx="18" ry="31"/><ellipse fill="#535353" cx="518" cy="521" rx="7" ry="18"/><ellipse fill="#919191" cx="543" cy="593" rx="11" ry="18"/><path fill="#888888" d="M494,584 547,607 554,629 545,672 520,665 505,649 496,620Z"/><ellipse fill="#4e4e4e" cx="546" cy="634" rx="5" ry="22"/><ellipse fill="#969696" cx="520" cy="649" rx="11" ry="9"/><path fill="#5e5e5e" d="M395,445 453,447 451,524 440,533 422,497 399,497Z"/><ellipse fill="#4e4e4e" cx="435" cy="486" rx="11" ry="18"/><path fill="#575757" d="M565,306 644,303 650,324 662,338 648,360 646,368 580,368 573,342 562,320Z"/><ellipse fill="#606060" cx="592" cy="342" rx="18" ry="18"/><path fill="#515151" d="M555,191 572,201 579,226 590,239 608,252 621,270 630,288 644,304 565,307 564,252 562,226Z"/><ellipse fill="#656565" cx="597" cy="243" rx="13" ry="18"/><path fill="#4c4c4c" d="M619,270 628,248 655,257 691,266 695,288 693,324 655,325 644,306 628,288Z"/><ellipse fill="#414141" cx="659" cy="279" rx="13" ry="18"/><path fill="#4a4a4a" d="M654,323 689,322 693,347 708,349 708,415 691,424 682,437 673,433 664,405 646,378 644,367 659,338Z"/><ellipse fill="#414141" cx="689" cy="378" rx="18" ry="31"/><path fill="#676767" d="M580,367 645,367 647,378 665,405 674,432 678,446 664,451 595,451 593,396Z"/><ellipse fill="#777777" cx="628" cy="414" rx="22" ry="18"/><ellipse fill="#535353" cx="592" cy="396" rx="8" ry="27"/><path fill="#626262" d="M595,450 644,450 637,486 641,521 606,525 597,512Z"/><path fill="#363636" d="M644,447 681,443 672,472 664,495 657,524 653,562 644,589 630,589 638,557 641,521 637,486Z"/><path fill="#5a5a5a" d="M671,472 680,445 689,432 708,415 722,415 720,446 708,448 708,564 653,564 655,521 662,495Z"/><path fill="#555555" d="M606,524 639,521 635,562 628,590 615,585 610,553Z"/><ellipse fill="#414141" cx="641" cy="577" rx="22" ry="9"/><ellipse fill="#4a4a4a" cx="713" cy="427" rx="11" ry="16"/></g></g>
<use href="#grat"/><use href="#base"/><use href="#frame"/>
<g><text class="k" text-anchor="middle" x="115.8" y="75.1">130°0'0"W</text><text class="k" text-anchor="middle" x="258.0" y="75.1">120°0'0"W</text><text class="k" text-anchor="middle" x="391.0" y="75.1">110°0'0"W</text><text class="k" text-anchor="middle" x="520.5" y="75.1">100°0'0"W</text><text class="k" text-anchor="middle" x="648.5" y="75.1">90°0'0"W</text><text class="k" text-anchor="middle" x="293.6" y="748.4">110°0'0"W</text><text class="k" text-anchor="middle" x="492.8" y="748.4">100°0'0"W</text><text class="k" text-anchor="middle" x="689.4" y="748.4">90°0'0"W</text><text class="k" text-anchor="end" x="79.0" y="302.5">40°0'0"N</text><text class="k" text-anchor="end" x="79.0" y="520.5">30°0'0"N</text><text class="k" text-anchor="start" x="787.4" y="158.4">50°0'0"N</text><text class="k" text-anchor="start" x="787.4" y="370.2">40°0'0"N</text><text class="k" text-anchor="start" x="787.4" y="579.1">30°0'0"N</text></g>
</g>
<path d="M1227.3,2453.5V2436.5H1413.8V2453.5M1250.6,2436.5V2449.8M1273.9,2436.5V2449.8M1297.2,2436.5V2449.8M1320.5,2436.5V2453.5M1343.9,2436.5V2449.8M1367.2,2436.5V2449.8M1390.5,2436.5V2449.8" fill="none" stroke="#0c0c0c" stroke-width="1.9"/>
<g font-size="22.2px" fill="#161616"><text x="1226.5" y="2481.3" text-anchor="middle">0</text><text x="1273" y="2481.3" text-anchor="middle">250</text><text x="1320.3" y="2481.3" text-anchor="middle">500</text><text x="1385" y="2481.3" textLength="176.5" lengthAdjust="spacing">1,000 Kilometers</text></g>
<text x="1613.5" y="2426.6" font-size="21.5px" fill="#111" text-anchor="middle">N</text>
<path d="M1613.4,2433.5 L1630.6,2488.5 L1613.4,2472.6 L1596.2,2488.5 Z" fill="#fff" stroke="#0c0c0c" stroke-width="1.1" stroke-linejoin="miter"/><path d="M1613.4,2433.5 L1613.4,2472.6 L1596.2,2488.5 Z" fill="#0c0c0c"/>
<defs><linearGradient id="cb" x1="0" x2="1" y1="0" y2="0"><stop offset="0.000" stop-color="#c01a1a"/><stop offset="0.125" stop-color="#d84c30"/><stop offset="0.250" stop-color="#e98254"/><stop offset="0.375" stop-color="#f6c086"/><stop offset="0.500" stop-color="#fffdbe"/><stop offset="0.625" stop-color="#d2e892"/><stop offset="0.750" stop-color="#a0ce6c"/><stop offset="0.875" stop-color="#64ac48"/><stop offset="1.000" stop-color="#2e8c22"/></linearGradient></defs>
<rect x="145" y="2534" width="1454" height="45" fill="url(#cb)"/>
<path d="M145.5,2579v3.5M873.3,2579v3.5M1598.5,2579v3.5" stroke="#333" stroke-width="1.6" fill="none"/>
<text x="143.5" y="2511.5" font-size="58px" fill="#141414" textLength="483" lengthAdjust="spacingAndGlyphs">Difference (mm)</text>
<g font-size="50.5px" fill="#141414"><text x="86" y="2653.3" textLength="116" lengthAdjust="spacingAndGlyphs">-200</text><text x="873.5" y="2653.3" text-anchor="middle" textLength="31" lengthAdjust="spacingAndGlyphs">0</text><text x="1536.5" y="2653.3" textLength="96.5" lengthAdjust="spacingAndGlyphs">200</text></g>
</svg>
</body></html>
